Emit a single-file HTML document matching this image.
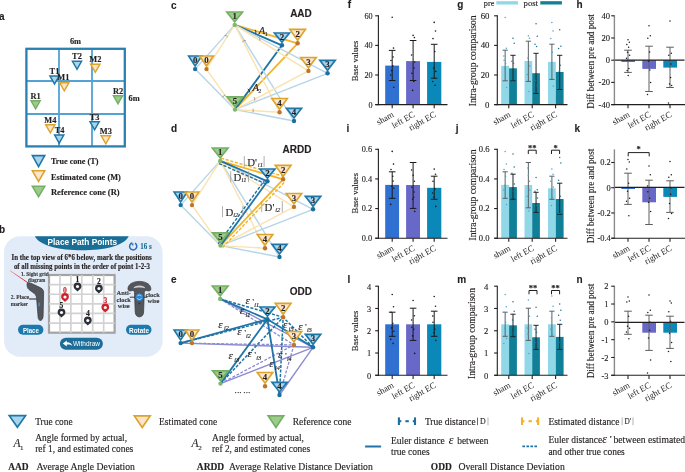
<!DOCTYPE html><html><head><meta charset="utf-8"><style>html,body{margin:0;padding:0;background:#fff;width:685px;height:472px;overflow:hidden}svg{display:block;will-change:transform}</style></head><body><svg width="685" height="472" viewBox="0 0 685 472"><text x="-1" y="19.7" text-anchor="start" fill="#231f20" style="font-family:'Liberation Sans',sans-serif;font-size:10px;font-weight:bold;"  stroke="#231f20" stroke-width="0.14">a</text>
<text x="75.5" y="43.8" text-anchor="middle" fill="#231f20" style="font-family:'Liberation Serif',serif;font-size:8.4px;font-weight:bold;"  stroke="#231f20" stroke-width="0.14">6m</text>
<text x="128.6" y="100.5" text-anchor="start" fill="#231f20" style="font-family:'Liberation Serif',serif;font-size:8.4px;font-weight:bold;"  stroke="#231f20" stroke-width="0.14">6m</text>
<g stroke="#52a2d4" stroke-width="1.8" fill="none"><line x1="59" y1="48.8" x2="59" y2="146.5"/><line x1="92" y1="48.8" x2="92" y2="146.5"/><line x1="26.4" y1="81" x2="125" y2="81"/><line x1="26.4" y1="114" x2="125" y2="114"/></g>
<rect x="26.4" y="48.8" width="98.4" height="97.6" fill="none" stroke="#2a80b0" stroke-width="2.3"/>
<polygon points="72.44,61.25 81.56,61.25 77.00,69.33" fill="#a9d5ec" stroke="#1f77a8" stroke-width="1.5" stroke-linejoin="miter"/>
<text x="77" y="59.0" text-anchor="middle" fill="#231f20" style="font-family:'Liberation Serif',serif;font-size:8.4px;font-weight:bold;"  stroke="#231f20" stroke-width="0.14">T2</text>
<polygon points="90.74,64.25 99.86,64.25 95.30,72.33" fill="#fde4cc" stroke="#dca42a" stroke-width="1.5" stroke-linejoin="miter"/>
<text x="95.3" y="62.0" text-anchor="middle" fill="#231f20" style="font-family:'Liberation Serif',serif;font-size:8.4px;font-weight:bold;"  stroke="#231f20" stroke-width="0.14">M2</text>
<polygon points="49.94,75.95 59.06,75.95 54.50,84.03" fill="#a9d5ec" stroke="#1f77a8" stroke-width="1.5" stroke-linejoin="miter"/>
<text x="54.5" y="73.7" text-anchor="middle" fill="#231f20" style="font-family:'Liberation Serif',serif;font-size:8.4px;font-weight:bold;"  stroke="#231f20" stroke-width="0.14">T1</text>
<polygon points="59.74,82.75 68.86,82.75 64.30,90.83" fill="#fde4cc" stroke="#dca42a" stroke-width="1.5" stroke-linejoin="miter"/>
<text x="63.4" y="80.2" text-anchor="middle" fill="#231f20" style="font-family:'Liberation Serif',serif;font-size:8.4px;font-weight:bold;"  stroke="#231f20" stroke-width="0.14">M1</text>
<polygon points="31.04,100.75 40.16,100.75 35.60,108.83" fill="#9ccb8c" stroke="#74b064" stroke-width="1.5" stroke-linejoin="miter"/>
<text x="35.6" y="98.5" text-anchor="middle" fill="#231f20" style="font-family:'Liberation Serif',serif;font-size:8.4px;font-weight:bold;"  stroke="#231f20" stroke-width="0.14">R1</text>
<polygon points="113.44,95.75 122.56,95.75 118.00,103.83" fill="#9ccb8c" stroke="#74b064" stroke-width="1.5" stroke-linejoin="miter"/>
<text x="118" y="93.5" text-anchor="middle" fill="#231f20" style="font-family:'Liberation Serif',serif;font-size:8.4px;font-weight:bold;"  stroke="#231f20" stroke-width="0.14">R2</text>
<polygon points="90.04,121.75 99.16,121.75 94.60,129.82" fill="#a9d5ec" stroke="#1f77a8" stroke-width="1.5" stroke-linejoin="miter"/>
<text x="94.6" y="119.5" text-anchor="middle" fill="#231f20" style="font-family:'Liberation Serif',serif;font-size:8.4px;font-weight:bold;"  stroke="#231f20" stroke-width="0.14">T3</text>
<polygon points="45.74,124.75 54.86,124.75 50.30,132.82" fill="#fde4cc" stroke="#dca42a" stroke-width="1.5" stroke-linejoin="miter"/>
<text x="50.3" y="122.5" text-anchor="middle" fill="#231f20" style="font-family:'Liberation Serif',serif;font-size:8.4px;font-weight:bold;"  stroke="#231f20" stroke-width="0.14">M4</text>
<polygon points="54.64,135.05 63.76,135.05 59.20,143.12" fill="#a9d5ec" stroke="#1f77a8" stroke-width="1.5" stroke-linejoin="miter"/>
<text x="59.6" y="133.4" text-anchor="middle" fill="#231f20" style="font-family:'Liberation Serif',serif;font-size:8.4px;font-weight:bold;"  stroke="#231f20" stroke-width="0.14">T4</text>
<polygon points="101.24,135.75 110.36,135.75 105.80,143.82" fill="#fde4cc" stroke="#dca42a" stroke-width="1.5" stroke-linejoin="miter"/>
<text x="105.8" y="133.5" text-anchor="middle" fill="#231f20" style="font-family:'Liberation Serif',serif;font-size:8.4px;font-weight:bold;"  stroke="#231f20" stroke-width="0.14">M3</text>
<polygon points="32.40,155.60 44.70,155.60 38.55,166.60" fill="#a9d5ec" stroke="#1f77a8" stroke-width="1.6" stroke-linejoin="miter"/>
<polygon points="32.40,170.80 44.70,170.80 38.55,181.40" fill="#fde4cc" stroke="#dca42a" stroke-width="1.6" stroke-linejoin="miter"/>
<polygon points="32.40,186.30 44.70,186.30 38.55,196.60" fill="#9ccb8c" stroke="#74b064" stroke-width="1.6" stroke-linejoin="miter"/>
<text x="51" y="164" text-anchor="start" fill="#231f20" style="font-family:'Liberation Serif',serif;font-size:8.3px;font-weight:bold;"  textLength="47.4" lengthAdjust="spacingAndGlyphs" stroke="#231f20" stroke-width="0.14">True cone (T)</text>
<text x="51" y="179.5" text-anchor="start" fill="#231f20" style="font-family:'Liberation Serif',serif;font-size:8.3px;font-weight:bold;"  textLength="69.8" lengthAdjust="spacingAndGlyphs" stroke="#231f20" stroke-width="0.14">Estimated cone (M)</text>
<text x="51" y="194.5" text-anchor="start" fill="#231f20" style="font-family:'Liberation Serif',serif;font-size:8.3px;font-weight:bold;"  textLength="68.6" lengthAdjust="spacingAndGlyphs" stroke="#231f20" stroke-width="0.14">Reference cone (R)</text>
<text x="-1" y="232.5" text-anchor="start" fill="#231f20" style="font-family:'Liberation Sans',sans-serif;font-size:10px;font-weight:bold;"  stroke="#231f20" stroke-width="0.14">b</text>
<rect x="4" y="236.2" width="158.6" height="120.5" rx="16" ry="16" fill="#e2ecf8"/>
<path d="M34.8,236.2 L128.7,236.2 C124,246 104,250.2 82,250.2 C60,250.2 40,246 34.8,236.2 Z" fill="#186e96"/>
<text x="47.5" y="245.4" text-anchor="start" fill="#ffffff" style="font-family:'Liberation Sans',sans-serif;font-size:9.6px;font-weight:bold;"  textLength="69.5" lengthAdjust="spacingAndGlyphs">Place Path Points</text>
<path d="M135.00,243.18 A3.6,3.6 0 1 1 132.27,242.82" fill="none" stroke="#2a6cc0" stroke-width="1.5"/>
<path d="M133.20,246.30 L131.20,244.10 L133.40,243.30 Z" fill="#2a6cc0"/>
<text x="140.3" y="249.2" text-anchor="start" fill="#1a6e98" style="font-family:'Liberation Serif',serif;font-size:7.6px;font-weight:bold;"  textLength="11.5" lengthAdjust="spacingAndGlyphs" stroke="#1a6e98" stroke-width="0.14">16 s</text>
<text x="11.5" y="260.3" text-anchor="start" fill="#231f20" style="font-family:'Liberation Serif',serif;font-size:7.6px;font-weight:bold;"  textLength="140.2" lengthAdjust="spacingAndGlyphs" stroke="#231f20" stroke-width="0.14">In the top view of 6*6 below, mark the positions</text>
<text x="13.9" y="268.6" text-anchor="start" fill="#231f20" style="font-family:'Liberation Serif',serif;font-size:7.6px;font-weight:bold;"  textLength="136" lengthAdjust="spacingAndGlyphs" stroke="#231f20" stroke-width="0.14">of all missing points in the order of point 1-2-3</text>
<rect x="49" y="275" width="65.6" height="57.69999999999999" fill="#ffffff" stroke="#a3a3a3" stroke-width="2.2"/>
<g stroke="#d2d2d2" stroke-width="1.7"><line x1="59.93" y1="275" x2="59.93" y2="332.7"/><line x1="49" y1="284.62" x2="114.6" y2="284.62"/><line x1="70.87" y1="275" x2="70.87" y2="332.7"/><line x1="49" y1="294.23" x2="114.6" y2="294.23"/><line x1="81.80" y1="275" x2="81.80" y2="332.7"/><line x1="49" y1="303.85" x2="114.6" y2="303.85"/><line x1="92.73" y1="275" x2="92.73" y2="332.7"/><line x1="49" y1="313.47" x2="114.6" y2="313.47"/><line x1="103.67" y1="275" x2="103.67" y2="332.7"/><line x1="49" y1="323.08" x2="114.6" y2="323.08"/></g>
<path d="M73.60,286.50 A3.9,3.9 0 1 1 81.40,286.50 C81.40,288.70 79.10,289.70 77.50,291.50 C75.90,289.70 73.60,288.70 73.60,286.50 Z" fill="#2c3038"/>
<circle cx="77.5" cy="286.50" r="1.55" fill="#ffffff"/>
<text x="77.5" y="282.2" text-anchor="middle" fill="#231f20" style="font-family:'Liberation Serif',serif;font-size:7.6px;font-weight:bold;"  stroke="#231f20" stroke-width="0.14">1</text>
<path d="M95.00,288.50 A3.9,3.9 0 1 1 102.80,288.50 C102.80,290.70 100.50,291.70 98.90,293.50 C97.30,291.70 95.00,290.70 95.00,288.50 Z" fill="#2c3038"/>
<circle cx="98.9" cy="288.50" r="1.55" fill="#ffffff"/>
<text x="98.9" y="284.2" text-anchor="middle" fill="#231f20" style="font-family:'Liberation Serif',serif;font-size:7.6px;font-weight:bold;"  stroke="#231f20" stroke-width="0.14">2</text>
<path d="M61.10,297.00 A3.9,3.9 0 1 1 68.90,297.00 C68.90,299.20 66.60,300.20 65.00,302.00 C63.40,300.20 61.10,299.20 61.10,297.00 Z" fill="#d0202a"/>
<circle cx="65" cy="297.00" r="1.55" fill="#ffffff"/>
<text x="65" y="292.7" text-anchor="middle" fill="#d0202a" style="font-family:'Liberation Serif',serif;font-size:7.6px;font-weight:bold;"  stroke="#d0202a" stroke-width="0.14">0</text>
<path d="M101.40,307.50 A3.9,3.9 0 1 1 109.20,307.50 C109.20,309.70 106.90,310.70 105.30,312.50 C103.70,310.70 101.40,309.70 101.40,307.50 Z" fill="#d0202a"/>
<circle cx="105.3" cy="307.50" r="1.55" fill="#ffffff"/>
<text x="105.3" y="303.2" text-anchor="middle" fill="#d0202a" style="font-family:'Liberation Serif',serif;font-size:7.6px;font-weight:bold;"  stroke="#d0202a" stroke-width="0.14">3</text>
<path d="M57.60,312.50 A3.9,3.9 0 1 1 65.40,312.50 C65.40,314.70 63.10,315.70 61.50,317.50 C59.90,315.70 57.60,314.70 57.60,312.50 Z" fill="#2c3038"/>
<circle cx="61.5" cy="312.50" r="1.55" fill="#ffffff"/>
<text x="61.5" y="308.2" text-anchor="middle" fill="#231f20" style="font-family:'Liberation Serif',serif;font-size:7.6px;font-weight:bold;"  stroke="#231f20" stroke-width="0.14">5</text>
<path d="M83.90,320.50 A3.9,3.9 0 1 1 91.70,320.50 C91.70,322.70 89.40,323.70 87.80,325.50 C86.20,323.70 83.90,322.70 83.90,320.50 Z" fill="#2c3038"/>
<circle cx="87.8" cy="320.50" r="1.55" fill="#ffffff"/>
<text x="87.8" y="316.2" text-anchor="middle" fill="#231f20" style="font-family:'Liberation Serif',serif;font-size:7.6px;font-weight:bold;"  stroke="#231f20" stroke-width="0.14">4</text>
<defs><linearGradient id="rl" x1="0" y1="0" x2="1" y2="0"><stop offset="0" stop-color="#f4a0a0"/><stop offset="1" stop-color="#d8202a"/></linearGradient></defs>
<path d="M10,270.7 L28,282.8" stroke="url(#rl)" stroke-width="1"/>
<path d="M27,284.6 C26.6,282.6 28.6,282.2 31,283.2 L40.6,287.8 C43.1,289 43.9,291.2 43.6,294 L43.1,316 C42.9,321.6 38.4,322 38.1,317 L36.6,298.5 C36.4,295.5 35.2,293.8 32.6,292.2 L29,289.6 C27.6,288.6 27.1,286.6 27,284.6 Z" fill="#53575c" stroke="#35383c" stroke-width="0.7"/>
<rect x="38.3" y="302.5" width="1.6" height="3.8" fill="#3a8ad0"/>
<line x1="29.1" y1="299" x2="36.6" y2="299" stroke="#222" stroke-width="1"/>
<text x="20.9" y="275.5" text-anchor="start" fill="#3a3a3a" style="font-family:'Liberation Serif',serif;font-size:6.4px;font-weight:bold;"  textLength="27.9" lengthAdjust="spacingAndGlyphs" stroke="#3a3a3a" stroke-width="0.14">1. Sight grid</text>
<text x="27.9" y="282.2" text-anchor="start" fill="#3a3a3a" style="font-family:'Liberation Serif',serif;font-size:6.4px;font-weight:bold;"  textLength="17.5" lengthAdjust="spacingAndGlyphs" stroke="#3a3a3a" stroke-width="0.14">diagram</text>
<text x="10.7" y="299" text-anchor="start" fill="#3a3a3a" style="font-family:'Liberation Serif',serif;font-size:6.4px;font-weight:bold;"  textLength="18.2" lengthAdjust="spacingAndGlyphs" stroke="#3a3a3a" stroke-width="0.14">2. Place</text>
<text x="10.7" y="305.8" text-anchor="start" fill="#3a3a3a" style="font-family:'Liberation Serif',serif;font-size:6.4px;font-weight:bold;"  textLength="17.2" lengthAdjust="spacingAndGlyphs" stroke="#3a3a3a" stroke-width="0.14">marker</text>
<path d="M128,289.5 C127.5,285 132,281.4 139.4,281.4 C146.8,281.4 151.3,285 150.8,289.5 C150.5,291 148.5,291.3 146.5,290.5 C145.5,290.2 144.5,291 144.3,292.5 L143.6,312 C143.4,318.5 135.4,318.5 135.2,312 L134.5,292.5 C134.3,291 133.3,290.2 132.3,290.5 C130.3,291.3 128.3,291 128,289.5 Z" fill="#53575c" stroke="#35383c" stroke-width="0.7"/>
<path d="M133.6,288.2 C134.2,284.6 144.6,284.6 145.2,288.2 C142.8,287.2 136,287.2 133.6,288.2 Z" fill="#cfcfcf"/>
<line x1="129.8" y1="297.2" x2="135" y2="297.2" stroke="#222" stroke-width="0.9"/>
<line x1="143.8" y1="297.2" x2="147.3" y2="297.2" stroke="#222" stroke-width="0.9"/>
<circle cx="139.4" cy="297.2" r="3.7" fill="#2f86d0"/>
<path d="M137.4,296.2 A2.2,2.2 0 0 1 141.4,296.2 M141.4,298.2 A2.2,2.2 0 0 1 137.4,298.2" stroke="#d8ecfa" stroke-width="0.8" fill="none"/>
<rect x="138.6" y="302.8" width="1.6" height="1.4" fill="#2a2d30"/>
<text x="123.7" y="295.2" text-anchor="middle" fill="#3a3a3a" style="font-family:'Liberation Serif',serif;font-size:6.4px;font-weight:bold;"  stroke="#3a3a3a" stroke-width="0.14">Anti-</text>
<text x="123.7" y="301.8" text-anchor="middle" fill="#3a3a3a" style="font-family:'Liberation Serif',serif;font-size:6.4px;font-weight:bold;"  stroke="#3a3a3a" stroke-width="0.14">clock</text>
<text x="123.7" y="308.4" text-anchor="middle" fill="#3a3a3a" style="font-family:'Liberation Serif',serif;font-size:6.4px;font-weight:bold;"  stroke="#3a3a3a" stroke-width="0.14">wise</text>
<text x="152.6" y="296.8" text-anchor="middle" fill="#3a3a3a" style="font-family:'Liberation Serif',serif;font-size:6.4px;font-weight:bold;"  stroke="#3a3a3a" stroke-width="0.14">clock</text>
<text x="153.4" y="303.2" text-anchor="middle" fill="#3a3a3a" style="font-family:'Liberation Serif',serif;font-size:6.4px;font-weight:bold;"  stroke="#3a3a3a" stroke-width="0.14">wise</text>
<rect x="18" y="324.7" width="25.4" height="10.1" rx="5" fill="#1a7ab0"/>
<text x="22.9" y="332.6" text-anchor="start" fill="#fff" style="font-family:'Liberation Sans',sans-serif;font-size:8px;font-weight:bold;"  textLength="16" lengthAdjust="spacingAndGlyphs">Place</text>
<rect x="126" y="324.7" width="25.5" height="10.1" rx="5" fill="#1a7ab0"/>
<text x="129" y="332.6" text-anchor="start" fill="#fff" style="font-family:'Liberation Sans',sans-serif;font-size:8px;font-weight:bold;"  textLength="20" lengthAdjust="spacingAndGlyphs">Rotate</text>
<rect x="59.9" y="337.8" width="43" height="11.9" rx="6" fill="#1c6e98"/>
<path d="M62.8,343.6 L66.9,340.5 L66.7,342.2 C69.6,342.1 71.9,343.4 72.4,346.2 C70.9,344.7 68.9,344.4 66.7,344.7 L66.9,346.6 Z" fill="#fff"/>
<text x="73" y="346.4" text-anchor="start" fill="#fff" style="font-family:'Liberation Sans',sans-serif;font-size:7.8px;font-weight:normal;"  textLength="27" lengthAdjust="spacingAndGlyphs">Withdraw</text>
<text x="171" y="9.3" text-anchor="start" fill="#231f20" style="font-family:'Liberation Sans',sans-serif;font-size:10px;font-weight:bold;"  stroke="#231f20" stroke-width="0.14">c</text>
<text x="311.8" y="17.1" text-anchor="end" fill="#231f20" style="font-family:'Liberation Sans',sans-serif;font-size:10px;font-weight:bold;"  stroke="#231f20" stroke-width="0.14">AAD</text>
<line x1="234.70" y1="24.90" x2="297.65" y2="43.30" stroke="#f2b42a" stroke-width="1.85" opacity="1"/>
<line x1="234.70" y1="24.90" x2="281.95" y2="45.30" stroke="#1e74a6" stroke-width="1.85" opacity="1"/>
<line x1="235.00" y1="109.60" x2="297.65" y2="43.30" stroke="#f2b42a" stroke-width="1.85" opacity="1"/>
<line x1="235.00" y1="109.60" x2="281.95" y2="45.30" stroke="#1e74a6" stroke-width="1.85" opacity="1"/>
<line x1="234.70" y1="24.90" x2="195.15" y2="69.10" stroke="#b6d5e7" stroke-width="1.4" opacity="1"/>
<line x1="234.70" y1="24.90" x2="327.55" y2="73.30" stroke="#b6d5e7" stroke-width="1.4" opacity="1"/>
<line x1="234.70" y1="24.90" x2="294.00" y2="121.00" stroke="#b6d5e7" stroke-width="1.4" opacity="1"/>
<line x1="234.70" y1="24.90" x2="206.50" y2="69.10" stroke="#fbe2ae" stroke-width="1.4" opacity="1"/>
<line x1="234.70" y1="24.90" x2="308.45" y2="70.90" stroke="#fbe2ae" stroke-width="1.4" opacity="1"/>
<line x1="234.70" y1="24.90" x2="279.55" y2="112.20" stroke="#fbe2ae" stroke-width="1.4" opacity="1"/>
<line x1="235.00" y1="109.60" x2="195.15" y2="69.10" stroke="#b6d5e7" stroke-width="1.4" opacity="1"/>
<line x1="235.00" y1="109.60" x2="327.55" y2="73.30" stroke="#b6d5e7" stroke-width="1.4" opacity="1"/>
<line x1="235.00" y1="109.60" x2="294.00" y2="121.00" stroke="#b6d5e7" stroke-width="1.4" opacity="1"/>
<line x1="235.00" y1="109.60" x2="206.50" y2="69.10" stroke="#fbe2ae" stroke-width="1.4" opacity="1"/>
<line x1="235.00" y1="109.60" x2="308.45" y2="70.90" stroke="#fbe2ae" stroke-width="1.4" opacity="1"/>
<line x1="235.00" y1="109.60" x2="279.55" y2="112.20" stroke="#fbe2ae" stroke-width="1.4" opacity="1"/>
<polygon points="188.63,56.03 201.67,56.03 195.15,66.09" fill="#a9d5ec" stroke="#1f77a8" stroke-width="1.65" stroke-linejoin="miter"/>
<circle cx="195.15" cy="69.10" r="2.2" fill="#1a6f9e"/>
<text x="195.14999999999998" y="63.1" text-anchor="middle" fill="#231f20" style="font-family:'Liberation Serif',serif;font-size:8.8px;font-weight:bold;"  stroke="#231f20" stroke-width="0.14">0</text>
<polygon points="199.63,56.03 213.37,56.03 206.50,66.09" fill="#fde4cc" stroke="#dca42a" stroke-width="1.65" stroke-linejoin="miter"/>
<circle cx="206.50" cy="69.10" r="2.2" fill="#c0742a"/>
<text x="206.5" y="63.1" text-anchor="middle" fill="#231f20" style="font-family:'Liberation Serif',serif;font-size:8.8px;font-weight:bold;"  stroke="#231f20" stroke-width="0.14">0</text>
<polygon points="226.83,12.02 242.57,12.02 234.70,21.89" fill="#9ccb8c" stroke="#74b064" stroke-width="1.65" stroke-linejoin="miter"/>
<circle cx="234.70" cy="24.90" r="2.2" fill="#7db86c"/>
<text x="234.7" y="19.1" text-anchor="middle" fill="#231f20" style="font-family:'Liberation Serif',serif;font-size:8.8px;font-weight:bold;"  stroke="#231f20" stroke-width="0.14">1</text>
<polygon points="227.03,96.83 242.97,96.83 235.00,106.59" fill="#9ccb8c" stroke="#74b064" stroke-width="1.65" stroke-linejoin="miter"/>
<circle cx="235.00" cy="109.60" r="2.2" fill="#7db86c"/>
<text x="235.0" y="103.9" text-anchor="middle" fill="#231f20" style="font-family:'Liberation Serif',serif;font-size:8.8px;font-weight:bold;"  stroke="#231f20" stroke-width="0.14">5</text>
<polygon points="274.43,33.03 289.47,33.03 281.95,42.29" fill="#a9d5ec" stroke="#1f77a8" stroke-width="1.65" stroke-linejoin="miter"/>
<circle cx="281.95" cy="45.30" r="2.2" fill="#1a6f9e"/>
<text x="281.95" y="40.1" text-anchor="middle" fill="#231f20" style="font-family:'Liberation Serif',serif;font-size:8.8px;font-weight:bold;"  stroke="#231f20" stroke-width="0.14">2</text>
<polygon points="289.83,29.43 305.47,29.43 297.65,40.29" fill="#fde4cc" stroke="#dca42a" stroke-width="1.65" stroke-linejoin="miter"/>
<circle cx="297.65" cy="43.30" r="2.2" fill="#c0742a"/>
<text x="297.65" y="36.5" text-anchor="middle" fill="#231f20" style="font-family:'Liberation Serif',serif;font-size:8.8px;font-weight:bold;"  stroke="#231f20" stroke-width="0.14">2</text>
<polygon points="300.73,57.53 316.17,57.53 308.45,67.89" fill="#fde4cc" stroke="#dca42a" stroke-width="1.65" stroke-linejoin="miter"/>
<circle cx="308.45" cy="70.90" r="2.2" fill="#c0742a"/>
<text x="308.45" y="64.60000000000001" text-anchor="middle" fill="#231f20" style="font-family:'Liberation Serif',serif;font-size:8.8px;font-weight:bold;"  stroke="#231f20" stroke-width="0.14">3</text>
<polygon points="319.83,60.33 335.27,60.33 327.55,70.29" fill="#a9d5ec" stroke="#1f77a8" stroke-width="1.65" stroke-linejoin="miter"/>
<circle cx="327.55" cy="73.30" r="2.2" fill="#1a6f9e"/>
<text x="327.55" y="67.4" text-anchor="middle" fill="#231f20" style="font-family:'Liberation Serif',serif;font-size:8.8px;font-weight:bold;"  stroke="#231f20" stroke-width="0.14">3</text>
<polygon points="271.83,98.53 287.27,98.53 279.55,109.19" fill="#fde4cc" stroke="#dca42a" stroke-width="1.65" stroke-linejoin="miter"/>
<circle cx="279.55" cy="112.20" r="2.2" fill="#c0742a"/>
<text x="279.55" y="105.60000000000001" text-anchor="middle" fill="#231f20" style="font-family:'Liberation Serif',serif;font-size:8.8px;font-weight:bold;"  stroke="#231f20" stroke-width="0.14">4</text>
<polygon points="286.43,108.33 301.57,108.33 294.00,117.99" fill="#a9d5ec" stroke="#1f77a8" stroke-width="1.65" stroke-linejoin="miter"/>
<circle cx="294.00" cy="121.00" r="2.2" fill="#1a6f9e"/>
<text x="294.0" y="115.4" text-anchor="middle" fill="#231f20" style="font-family:'Liberation Serif',serif;font-size:8.8px;font-weight:bold;"  stroke="#231f20" stroke-width="0.14">4</text>
<text x="262.0" y="33.7" text-anchor="middle" fill="#231f20" style="font-family:'Liberation Serif',serif;font-size:10.5px;font-weight:normal;font-style:italic"  stroke="#231f20" stroke-width="0.14">A</text>
<text x="266.2" y="35.6" text-anchor="middle" fill="#231f20" style="font-family:'Liberation Serif',serif;font-size:6px;font-weight:normal;"  stroke="#231f20" stroke-width="0.14">1</text>
<text x="255.6" y="90.6" text-anchor="middle" fill="#231f20" style="font-family:'Liberation Serif',serif;font-size:10.5px;font-weight:normal;font-style:italic"  stroke="#231f20" stroke-width="0.14">A</text>
<text x="259.8" y="92.5" text-anchor="middle" fill="#231f20" style="font-family:'Liberation Serif',serif;font-size:6px;font-weight:normal;"  stroke="#231f20" stroke-width="0.14">2</text>
<path d="M224.64,35.20 Q226.65,35.32 227.76,37.00" fill="none" stroke="#7a7a7a" stroke-width="0.7"/>
<path d="M242.41,41.82 Q243.79,40.35 245.79,40.58" fill="none" stroke="#7a7a7a" stroke-width="0.7"/>
<path d="M258.78,37.31 Q260.25,38.69 260.02,40.69" fill="none" stroke="#7a7a7a" stroke-width="0.7"/>
<path d="M255.05,29.73 Q256.29,31.54 255.75,33.67" fill="none" stroke="#231f20" stroke-width="0.9"/>
<path d="M222.62,97.26 Q223.42,95.41 225.38,94.94" fill="none" stroke="#7a7a7a" stroke-width="0.7"/>
<path d="M253.99,97.03 Q255.19,98.64 254.61,100.57" fill="none" stroke="#7a7a7a" stroke-width="0.7"/>
<path d="M252.90,108.70 Q253.80,110.50 252.90,112.30" fill="none" stroke="#7a7a7a" stroke-width="0.7"/>
<path d="M247.80,88.87 Q249.58,90.15 249.80,92.33" fill="none" stroke="#231f20" stroke-width="0.9"/>
<text x="171" y="132" text-anchor="start" fill="#231f20" style="font-family:'Liberation Sans',sans-serif;font-size:10px;font-weight:bold;"  stroke="#231f20" stroke-width="0.14">d</text>
<text x="311.4" y="152.8" text-anchor="end" fill="#231f20" style="font-family:'Liberation Sans',sans-serif;font-size:10px;font-weight:bold;"  stroke="#231f20" stroke-width="0.14">ARDD</text>
<line x1="220.20" y1="160.90" x2="180.65" y2="205.10" stroke="#b6d5e7" stroke-width="1.4" opacity="1"/>
<line x1="220.20" y1="160.90" x2="313.05" y2="209.30" stroke="#b6d5e7" stroke-width="1.4" opacity="1"/>
<line x1="220.20" y1="160.90" x2="279.50" y2="257.00" stroke="#b6d5e7" stroke-width="1.4" opacity="1"/>
<line x1="220.20" y1="160.90" x2="192.00" y2="205.10" stroke="#fbe2ae" stroke-width="1.4" opacity="1"/>
<line x1="220.20" y1="160.90" x2="293.95" y2="206.90" stroke="#fbe2ae" stroke-width="1.4" opacity="1"/>
<line x1="220.20" y1="160.90" x2="265.05" y2="248.20" stroke="#fbe2ae" stroke-width="1.4" opacity="1"/>
<line x1="220.50" y1="245.60" x2="180.65" y2="205.10" stroke="#b6d5e7" stroke-width="1.4" opacity="1"/>
<line x1="220.50" y1="245.60" x2="313.05" y2="209.30" stroke="#b6d5e7" stroke-width="1.4" opacity="1"/>
<line x1="220.50" y1="245.60" x2="279.50" y2="257.00" stroke="#b6d5e7" stroke-width="1.4" opacity="1"/>
<line x1="220.50" y1="245.60" x2="192.00" y2="205.10" stroke="#fbe2ae" stroke-width="1.4" opacity="1"/>
<line x1="220.50" y1="245.60" x2="293.95" y2="206.90" stroke="#fbe2ae" stroke-width="1.4" opacity="1"/>
<line x1="220.50" y1="245.60" x2="265.05" y2="248.20" stroke="#fbe2ae" stroke-width="1.4" opacity="1"/>
<line x1="220.20" y1="160.90" x2="283.15" y2="179.30" stroke="#f2b42a" stroke-width="1.8" opacity="1"/>
<line x1="221.01" y1="158.12" x2="283.96" y2="176.52" stroke="#f2b42a" stroke-width="1.4" stroke-dasharray="3.2,1.6" opacity="1"/>
<line x1="220.20" y1="160.90" x2="267.45" y2="181.30" stroke="#1e74a6" stroke-width="1.8" opacity="1"/>
<line x1="219.05" y1="163.56" x2="266.30" y2="183.96" stroke="#1e74a6" stroke-width="1.4" stroke-dasharray="3.2,1.6" opacity="1"/>
<line x1="220.50" y1="245.60" x2="283.15" y2="179.30" stroke="#f2b42a" stroke-width="1.8" opacity="1"/>
<line x1="222.61" y1="247.59" x2="285.26" y2="181.29" stroke="#f2b42a" stroke-width="1.4" stroke-dasharray="3.2,1.6" opacity="1"/>
<line x1="220.50" y1="245.60" x2="267.45" y2="181.30" stroke="#1e74a6" stroke-width="1.8" opacity="1"/>
<line x1="218.16" y1="243.89" x2="265.11" y2="179.59" stroke="#1e74a6" stroke-width="1.4" stroke-dasharray="3.2,1.6" opacity="1"/>
<polygon points="174.13,192.02 187.17,192.02 180.65,202.09" fill="#a9d5ec" stroke="#1f77a8" stroke-width="1.65" stroke-linejoin="miter"/>
<circle cx="180.65" cy="205.10" r="2.2" fill="#1a6f9e"/>
<text x="180.64999999999998" y="199.1" text-anchor="middle" fill="#231f20" style="font-family:'Liberation Serif',serif;font-size:8.8px;font-weight:bold;"  stroke="#231f20" stroke-width="0.14">0</text>
<polygon points="185.13,192.02 198.87,192.02 192.00,202.09" fill="#fde4cc" stroke="#dca42a" stroke-width="1.65" stroke-linejoin="miter"/>
<circle cx="192.00" cy="205.10" r="2.2" fill="#c0742a"/>
<text x="192.0" y="199.1" text-anchor="middle" fill="#231f20" style="font-family:'Liberation Serif',serif;font-size:8.8px;font-weight:bold;"  stroke="#231f20" stroke-width="0.14">0</text>
<polygon points="212.33,148.02 228.07,148.02 220.20,157.89" fill="#9ccb8c" stroke="#74b064" stroke-width="1.65" stroke-linejoin="miter"/>
<circle cx="220.20" cy="160.90" r="2.2" fill="#7db86c"/>
<text x="220.2" y="155.1" text-anchor="middle" fill="#231f20" style="font-family:'Liberation Serif',serif;font-size:8.8px;font-weight:bold;"  stroke="#231f20" stroke-width="0.14">1</text>
<polygon points="212.53,232.82 228.47,232.82 220.50,242.59" fill="#9ccb8c" stroke="#74b064" stroke-width="1.65" stroke-linejoin="miter"/>
<circle cx="220.50" cy="245.60" r="2.2" fill="#7db86c"/>
<text x="220.5" y="239.9" text-anchor="middle" fill="#231f20" style="font-family:'Liberation Serif',serif;font-size:8.8px;font-weight:bold;"  stroke="#231f20" stroke-width="0.14">5</text>
<polygon points="259.93,169.02 274.97,169.02 267.45,178.29" fill="#a9d5ec" stroke="#1f77a8" stroke-width="1.65" stroke-linejoin="miter"/>
<circle cx="267.45" cy="181.30" r="2.2" fill="#1a6f9e"/>
<text x="267.45" y="176.1" text-anchor="middle" fill="#231f20" style="font-family:'Liberation Serif',serif;font-size:8.8px;font-weight:bold;"  stroke="#231f20" stroke-width="0.14">2</text>
<polygon points="275.33,165.42 290.97,165.42 283.15,176.29" fill="#fde4cc" stroke="#dca42a" stroke-width="1.65" stroke-linejoin="miter"/>
<circle cx="283.15" cy="179.30" r="2.2" fill="#c0742a"/>
<text x="283.15" y="172.5" text-anchor="middle" fill="#231f20" style="font-family:'Liberation Serif',serif;font-size:8.8px;font-weight:bold;"  stroke="#231f20" stroke-width="0.14">2</text>
<polygon points="286.23,193.52 301.67,193.52 293.95,203.89" fill="#fde4cc" stroke="#dca42a" stroke-width="1.65" stroke-linejoin="miter"/>
<circle cx="293.95" cy="206.90" r="2.2" fill="#c0742a"/>
<text x="293.95" y="200.6" text-anchor="middle" fill="#231f20" style="font-family:'Liberation Serif',serif;font-size:8.8px;font-weight:bold;"  stroke="#231f20" stroke-width="0.14">3</text>
<polygon points="305.33,196.32 320.77,196.32 313.05,206.29" fill="#a9d5ec" stroke="#1f77a8" stroke-width="1.65" stroke-linejoin="miter"/>
<circle cx="313.05" cy="209.30" r="2.2" fill="#1a6f9e"/>
<text x="313.05" y="203.4" text-anchor="middle" fill="#231f20" style="font-family:'Liberation Serif',serif;font-size:8.8px;font-weight:bold;"  stroke="#231f20" stroke-width="0.14">3</text>
<polygon points="257.33,234.52 272.77,234.52 265.05,245.19" fill="#fde4cc" stroke="#dca42a" stroke-width="1.65" stroke-linejoin="miter"/>
<circle cx="265.05" cy="248.20" r="2.2" fill="#c0742a"/>
<text x="265.05" y="241.6" text-anchor="middle" fill="#231f20" style="font-family:'Liberation Serif',serif;font-size:8.8px;font-weight:bold;"  stroke="#231f20" stroke-width="0.14">4</text>
<polygon points="271.93,244.32 287.07,244.32 279.50,253.99" fill="#a9d5ec" stroke="#1f77a8" stroke-width="1.65" stroke-linejoin="miter"/>
<circle cx="279.50" cy="257.00" r="2.2" fill="#1a6f9e"/>
<text x="279.5" y="251.4" text-anchor="middle" fill="#231f20" style="font-family:'Liberation Serif',serif;font-size:8.8px;font-weight:bold;"  stroke="#231f20" stroke-width="0.14">4</text>
<line x1="244.29999999999998" y1="156.0" x2="244.29999999999998" y2="167.0" stroke="#9a9a9a" stroke-width="0.8"/>
<text x="247.2" y="165.6" text-anchor="start" fill="#2a2a2a" style="font-family:'Liberation Serif',serif;font-size:10.8px;font-weight:normal;"  stroke="#2a2a2a" stroke-width="0.14">D'</text>
<text x="257.80" y="167.20" fill="#2a2a2a" stroke="#2a2a2a" stroke-width="0.12" style="font-family:'Liberation Serif',serif;font-size:6.6px;font-style:italic">i1</text>
<line x1="264.1" y1="156.0" x2="264.1" y2="167.0" stroke="#9a9a9a" stroke-width="0.8"/>
<line x1="230.7" y1="171.20000000000002" x2="230.7" y2="182.20000000000002" stroke="#9a9a9a" stroke-width="0.8"/>
<text x="233.6" y="180.8" text-anchor="start" fill="#2a2a2a" style="font-family:'Liberation Serif',serif;font-size:10.8px;font-weight:normal;"  stroke="#2a2a2a" stroke-width="0.14">D</text>
<text x="241.40" y="182.40" fill="#2a2a2a" stroke="#2a2a2a" stroke-width="0.12" style="font-family:'Liberation Serif',serif;font-size:6.6px;font-style:italic">i1</text>
<line x1="248.5" y1="171.20000000000002" x2="248.5" y2="182.20000000000002" stroke="#9a9a9a" stroke-width="0.8"/>
<line x1="222.5" y1="206.20000000000002" x2="222.5" y2="217.20000000000002" stroke="#9a9a9a" stroke-width="0.8"/>
<text x="225.4" y="215.8" text-anchor="start" fill="#2a2a2a" style="font-family:'Liberation Serif',serif;font-size:10.8px;font-weight:normal;"  stroke="#2a2a2a" stroke-width="0.14">D</text>
<text x="233.20" y="217.40" fill="#2a2a2a" stroke="#2a2a2a" stroke-width="0.12" style="font-family:'Liberation Serif',serif;font-size:6.6px;font-style:italic">i2</text>
<line x1="242.8" y1="206.20000000000002" x2="242.8" y2="217.20000000000002" stroke="#9a9a9a" stroke-width="0.8"/>
<line x1="261.7" y1="201.20000000000002" x2="261.7" y2="212.20000000000002" stroke="#9a9a9a" stroke-width="0.8"/>
<text x="264.6" y="210.8" text-anchor="start" fill="#2a2a2a" style="font-family:'Liberation Serif',serif;font-size:10.8px;font-weight:normal;"  stroke="#2a2a2a" stroke-width="0.14">D'</text>
<text x="275.20" y="212.40" fill="#2a2a2a" stroke="#2a2a2a" stroke-width="0.12" style="font-family:'Liberation Serif',serif;font-size:6.6px;font-style:italic">i2</text>
<line x1="282.3" y1="201.20000000000002" x2="282.3" y2="212.20000000000002" stroke="#9a9a9a" stroke-width="0.8"/>
<text x="171" y="283.3" text-anchor="start" fill="#231f20" style="font-family:'Liberation Sans',sans-serif;font-size:10px;font-weight:bold;"  stroke="#231f20" stroke-width="0.14">e</text>
<text x="311.9" y="294.6" text-anchor="end" fill="#231f20" style="font-family:'Liberation Sans',sans-serif;font-size:10px;font-weight:bold;"  stroke="#231f20" stroke-width="0.14">ODD</text>
<line x1="220.20" y1="298.90" x2="313.05" y2="347.30" stroke="#8c8cd2" stroke-width="1.4" opacity="1"/>
<line x1="220.20" y1="298.90" x2="293.95" y2="344.90" stroke="#8c8cd2" stroke-width="1.3" stroke-dasharray="3,1.5" opacity="1"/>
<line x1="180.65" y1="343.10" x2="313.05" y2="347.30" stroke="#8c8cd2" stroke-width="1.4" opacity="1"/>
<line x1="180.65" y1="343.10" x2="293.95" y2="344.90" stroke="#8c8cd2" stroke-width="1.3" stroke-dasharray="3,1.5" opacity="1"/>
<line x1="220.50" y1="383.60" x2="313.05" y2="347.30" stroke="#8c8cd2" stroke-width="1.4" opacity="1"/>
<line x1="220.50" y1="383.60" x2="293.95" y2="344.90" stroke="#8c8cd2" stroke-width="1.3" stroke-dasharray="3,1.5" opacity="1"/>
<line x1="279.50" y1="395.00" x2="313.05" y2="347.30" stroke="#8c8cd2" stroke-width="1.4" opacity="1"/>
<line x1="279.50" y1="395.00" x2="293.95" y2="344.90" stroke="#8c8cd2" stroke-width="1.3" stroke-dasharray="3,1.5" opacity="1"/>
<line x1="220.20" y1="298.90" x2="267.45" y2="319.30" stroke="#1e74a6" stroke-width="1.8" opacity="1"/>
<line x1="220.20" y1="298.90" x2="283.15" y2="317.30" stroke="#1e74a6" stroke-width="1.5" stroke-dasharray="3,1.5" opacity="1"/>
<line x1="180.65" y1="343.10" x2="267.45" y2="319.30" stroke="#1e74a6" stroke-width="1.8" opacity="1"/>
<line x1="180.65" y1="343.10" x2="283.15" y2="317.30" stroke="#1e74a6" stroke-width="1.5" stroke-dasharray="3,1.5" opacity="1"/>
<line x1="220.50" y1="383.60" x2="267.45" y2="319.30" stroke="#1e74a6" stroke-width="1.8" opacity="1"/>
<line x1="220.50" y1="383.60" x2="283.15" y2="317.30" stroke="#1e74a6" stroke-width="1.5" stroke-dasharray="3,1.5" opacity="1"/>
<line x1="279.50" y1="395.00" x2="267.45" y2="319.30" stroke="#1e74a6" stroke-width="1.8" opacity="1"/>
<line x1="279.50" y1="395.00" x2="283.15" y2="317.30" stroke="#1e74a6" stroke-width="1.5" stroke-dasharray="3,1.5" opacity="1"/>
<line x1="313.05" y1="347.30" x2="267.45" y2="319.30" stroke="#1e74a6" stroke-width="1.8" opacity="1"/>
<line x1="313.05" y1="347.30" x2="283.15" y2="317.30" stroke="#1e74a6" stroke-width="1.5" stroke-dasharray="3,1.5" opacity="1"/>
<polygon points="174.13,330.02 187.17,330.02 180.65,340.09" fill="#a9d5ec" stroke="#1f77a8" stroke-width="1.65" stroke-linejoin="miter"/>
<circle cx="180.65" cy="343.10" r="2.2" fill="#1a6f9e"/>
<text x="180.64999999999998" y="337.09999999999997" text-anchor="middle" fill="#231f20" style="font-family:'Liberation Serif',serif;font-size:8.8px;font-weight:bold;"  stroke="#231f20" stroke-width="0.14">0</text>
<polygon points="185.13,330.02 198.87,330.02 192.00,340.09" fill="#fde4cc" stroke="#dca42a" stroke-width="1.65" stroke-linejoin="miter"/>
<circle cx="192.00" cy="343.10" r="2.2" fill="#c0742a"/>
<text x="192.0" y="337.09999999999997" text-anchor="middle" fill="#231f20" style="font-family:'Liberation Serif',serif;font-size:8.8px;font-weight:bold;"  stroke="#231f20" stroke-width="0.14">0</text>
<polygon points="212.33,286.02 228.07,286.02 220.20,295.89" fill="#9ccb8c" stroke="#74b064" stroke-width="1.65" stroke-linejoin="miter"/>
<circle cx="220.20" cy="298.90" r="2.2" fill="#7db86c"/>
<text x="220.2" y="293.09999999999997" text-anchor="middle" fill="#231f20" style="font-family:'Liberation Serif',serif;font-size:8.8px;font-weight:bold;"  stroke="#231f20" stroke-width="0.14">1</text>
<polygon points="212.53,370.82 228.47,370.82 220.50,380.59" fill="#9ccb8c" stroke="#74b064" stroke-width="1.65" stroke-linejoin="miter"/>
<circle cx="220.50" cy="383.60" r="2.2" fill="#7db86c"/>
<text x="220.5" y="377.9" text-anchor="middle" fill="#231f20" style="font-family:'Liberation Serif',serif;font-size:8.8px;font-weight:bold;"  stroke="#231f20" stroke-width="0.14">5</text>
<polygon points="259.93,307.02 274.97,307.02 267.45,316.29" fill="#a9d5ec" stroke="#1f77a8" stroke-width="1.65" stroke-linejoin="miter"/>
<circle cx="267.45" cy="319.30" r="2.2" fill="#1a6f9e"/>
<text x="267.45" y="314.09999999999997" text-anchor="middle" fill="#231f20" style="font-family:'Liberation Serif',serif;font-size:8.8px;font-weight:bold;"  stroke="#231f20" stroke-width="0.14">2</text>
<polygon points="275.33,303.43 290.97,303.43 283.15,314.29" fill="#fde4cc" stroke="#dca42a" stroke-width="1.65" stroke-linejoin="miter"/>
<circle cx="283.15" cy="317.30" r="2.2" fill="#c0742a"/>
<text x="283.15" y="310.5" text-anchor="middle" fill="#231f20" style="font-family:'Liberation Serif',serif;font-size:8.8px;font-weight:bold;"  stroke="#231f20" stroke-width="0.14">2</text>
<polygon points="286.23,331.52 301.67,331.52 293.95,341.89" fill="#fde4cc" stroke="#dca42a" stroke-width="1.65" stroke-linejoin="miter"/>
<circle cx="293.95" cy="344.90" r="2.2" fill="#c0742a"/>
<text x="293.95" y="338.59999999999997" text-anchor="middle" fill="#231f20" style="font-family:'Liberation Serif',serif;font-size:8.8px;font-weight:bold;"  stroke="#231f20" stroke-width="0.14">3</text>
<polygon points="305.33,334.32 320.77,334.32 313.05,344.29" fill="#a9d5ec" stroke="#1f77a8" stroke-width="1.65" stroke-linejoin="miter"/>
<circle cx="313.05" cy="347.30" r="2.2" fill="#1a6f9e"/>
<text x="313.05" y="341.4" text-anchor="middle" fill="#231f20" style="font-family:'Liberation Serif',serif;font-size:8.8px;font-weight:bold;"  stroke="#231f20" stroke-width="0.14">3</text>
<polygon points="257.33,372.52 272.77,372.52 265.05,383.19" fill="#fde4cc" stroke="#dca42a" stroke-width="1.65" stroke-linejoin="miter"/>
<circle cx="265.05" cy="386.20" r="2.2" fill="#c0742a"/>
<text x="265.05" y="379.59999999999997" text-anchor="middle" fill="#231f20" style="font-family:'Liberation Serif',serif;font-size:8.8px;font-weight:bold;"  stroke="#231f20" stroke-width="0.14">4</text>
<polygon points="271.93,382.32 287.07,382.32 279.50,391.99" fill="#a9d5ec" stroke="#1f77a8" stroke-width="1.65" stroke-linejoin="miter"/>
<circle cx="279.50" cy="395.00" r="2.2" fill="#1a6f9e"/>
<text x="279.5" y="389.4" text-anchor="middle" fill="#231f20" style="font-family:'Liberation Serif',serif;font-size:8.8px;font-weight:bold;"  stroke="#231f20" stroke-width="0.14">4</text>
<text x="245.5" y="304.2" text-anchor="start" fill="#231f20" style="font-family:'Liberation Serif',serif;font-size:11px;font-weight:normal;font-style:italic"  stroke="#231f20" stroke-width="0.14">&#949;</text>
<text x="252.10" y="305.00" fill="#231f20" style="font-family:'Liberation Serif',serif;font-size:8.5px;font-weight:bold">'</text>
<text x="254.30" y="306.80" fill="#231f20" stroke="#231f20" stroke-width="0.15" style="font-family:'Liberation Serif',serif;font-size:6.2px;font-style:italic">i1</text>
<text x="239.8" y="314.2" text-anchor="start" fill="#231f20" style="font-family:'Liberation Serif',serif;font-size:11px;font-weight:normal;font-style:italic"  stroke="#231f20" stroke-width="0.14">&#949;</text>
<text x="245.60" y="316.80" fill="#231f20" stroke="#231f20" stroke-width="0.15" style="font-family:'Liberation Serif',serif;font-size:6.2px;font-style:italic">i1</text>
<text x="218.20000000000002" y="327.6" text-anchor="start" fill="#231f20" style="font-family:'Liberation Serif',serif;font-size:11px;font-weight:normal;font-style:italic"  stroke="#231f20" stroke-width="0.14">&#949;</text>
<text x="224.00" y="330.20" fill="#231f20" stroke="#231f20" stroke-width="0.15" style="font-family:'Liberation Serif',serif;font-size:6.2px;font-style:italic">i2</text>
<text x="237.3" y="335.2" text-anchor="start" fill="#231f20" style="font-family:'Liberation Serif',serif;font-size:11px;font-weight:normal;font-style:italic"  stroke="#231f20" stroke-width="0.14">&#949;</text>
<text x="243.90" y="336.00" fill="#231f20" style="font-family:'Liberation Serif',serif;font-size:8.5px;font-weight:bold">'</text>
<text x="246.10" y="337.80" fill="#231f20" stroke="#231f20" stroke-width="0.15" style="font-family:'Liberation Serif',serif;font-size:6.2px;font-style:italic">i2</text>
<text x="228.4" y="359.2" text-anchor="start" fill="#231f20" style="font-family:'Liberation Serif',serif;font-size:11px;font-weight:normal;font-style:italic"  stroke="#231f20" stroke-width="0.14">&#949;</text>
<text x="234.20" y="361.80" fill="#231f20" stroke="#231f20" stroke-width="0.15" style="font-family:'Liberation Serif',serif;font-size:6.2px;font-style:italic">i3</text>
<text x="247.4" y="357.1" text-anchor="start" fill="#231f20" style="font-family:'Liberation Serif',serif;font-size:11px;font-weight:normal;font-style:italic"  stroke="#231f20" stroke-width="0.14">&#949;</text>
<text x="254.00" y="357.90" fill="#231f20" style="font-family:'Liberation Serif',serif;font-size:8.5px;font-weight:bold">'</text>
<text x="256.20" y="359.70" fill="#231f20" stroke="#231f20" stroke-width="0.15" style="font-family:'Liberation Serif',serif;font-size:6.2px;font-style:italic">i3</text>
<text x="278.09999999999997" y="358.2" text-anchor="start" fill="#231f20" style="font-family:'Liberation Serif',serif;font-size:11px;font-weight:normal;font-style:italic"  stroke="#231f20" stroke-width="0.14">&#949;</text>
<text x="284.70" y="359.00" fill="#231f20" style="font-family:'Liberation Serif',serif;font-size:8.5px;font-weight:bold">'</text>
<text x="286.90" y="360.80" fill="#231f20" stroke="#231f20" stroke-width="0.15" style="font-family:'Liberation Serif',serif;font-size:6.2px;font-style:italic">i4</text>
<text x="269.2" y="367" text-anchor="start" fill="#231f20" style="font-family:'Liberation Serif',serif;font-size:11px;font-weight:normal;font-style:italic"  stroke="#231f20" stroke-width="0.14">&#949;</text>
<text x="275.00" y="369.60" fill="#231f20" stroke="#231f20" stroke-width="0.15" style="font-family:'Liberation Serif',serif;font-size:6.2px;font-style:italic">i4</text>
<text x="283.0" y="328.2" text-anchor="start" fill="#231f20" style="font-family:'Liberation Serif',serif;font-size:11px;font-weight:normal;font-style:italic"  stroke="#231f20" stroke-width="0.14">&#949;</text>
<text x="288.80" y="330.80" fill="#231f20" stroke="#231f20" stroke-width="0.15" style="font-family:'Liberation Serif',serif;font-size:6.2px;font-style:italic">i5</text>
<text x="298.2" y="329.5" text-anchor="start" fill="#231f20" style="font-family:'Liberation Serif',serif;font-size:11px;font-weight:normal;font-style:italic"  stroke="#231f20" stroke-width="0.14">&#949;</text>
<text x="304.80" y="330.30" fill="#231f20" style="font-family:'Liberation Serif',serif;font-size:8.5px;font-weight:bold">'</text>
<text x="307.00" y="332.10" fill="#231f20" stroke="#231f20" stroke-width="0.15" style="font-family:'Liberation Serif',serif;font-size:6.2px;font-style:italic">i5</text>
<text x="242.5" y="394.5" text-anchor="middle" fill="#231f20" style="font-family:'Liberation Serif',serif;font-size:7px;font-weight:bold;"  stroke="#231f20" stroke-width="0.14">&#183;&#183;&#183; &#183;&#183;&#183;</text>
<text x="347.8" y="7.8" text-anchor="start" fill="#231f20" style="font-family:'Liberation Sans',sans-serif;font-size:10px;font-weight:bold;"  stroke="#231f20" stroke-width="0.14">f</text>
<text x="346.4" y="132" text-anchor="start" fill="#231f20" style="font-family:'Liberation Sans',sans-serif;font-size:10px;font-weight:bold;"  stroke="#231f20" stroke-width="0.14">i</text>
<text x="347.6" y="282.6" text-anchor="start" fill="#231f20" style="font-family:'Liberation Sans',sans-serif;font-size:10px;font-weight:bold;"  stroke="#231f20" stroke-width="0.14">l</text>
<text x="457.3" y="7.6" text-anchor="start" fill="#231f20" style="font-family:'Liberation Sans',sans-serif;font-size:10px;font-weight:bold;"  stroke="#231f20" stroke-width="0.14">g</text>
<text x="455.8" y="132" text-anchor="start" fill="#231f20" style="font-family:'Liberation Sans',sans-serif;font-size:10px;font-weight:bold;"  stroke="#231f20" stroke-width="0.14">j</text>
<text x="457.3" y="282.6" text-anchor="start" fill="#231f20" style="font-family:'Liberation Sans',sans-serif;font-size:10px;font-weight:bold;"  stroke="#231f20" stroke-width="0.14">m</text>
<text x="576.5" y="7.8" text-anchor="start" fill="#231f20" style="font-family:'Liberation Sans',sans-serif;font-size:10px;font-weight:bold;"  stroke="#231f20" stroke-width="0.14">h</text>
<text x="574.6" y="132" text-anchor="start" fill="#231f20" style="font-family:'Liberation Sans',sans-serif;font-size:10px;font-weight:bold;"  stroke="#231f20" stroke-width="0.14">k</text>
<text x="576.5" y="282.6" text-anchor="start" fill="#231f20" style="font-family:'Liberation Sans',sans-serif;font-size:10px;font-weight:bold;"  stroke="#231f20" stroke-width="0.14">n</text>
<rect x="385.2" y="65.60" width="13.90" height="39.00" fill="#3070d0"/>
<rect x="406.1" y="61.10" width="13.90" height="43.50" fill="#6868c8"/>
<rect x="427.1" y="61.90" width="14.20" height="42.70" fill="#0a88b8"/>
<path d="M392.2,50.40 L392.2,80.50 M388.9,50.40 L395.5,50.40 M388.9,80.50 L395.5,80.50" stroke="#1a1a1a" stroke-width="1.0" fill="none"/>
<g fill="#1a1a1a"><circle cx="392.20" cy="17.20" r="0.8"/><circle cx="393.50" cy="48.10" r="0.8"/><circle cx="391.00" cy="60.50" r="0.8"/><circle cx="392.80" cy="65.90" r="0.8"/><circle cx="391.70" cy="70.60" r="0.8"/><circle cx="393.80" cy="87.20" r="0.8"/><circle cx="390.70" cy="75.00" r="0.8"/><circle cx="393.10" cy="57.00" r="0.8"/></g>
<path d="M413.1,40.50 L413.1,80.50 M409.8,40.50 L416.40000000000003,40.50 M409.8,80.50 L416.40000000000003,80.50" stroke="#1a1a1a" stroke-width="1.0" fill="none"/>
<g fill="#1a1a1a"><circle cx="413.10" cy="35.40" r="0.8"/><circle cx="414.40" cy="37.60" r="0.8"/><circle cx="411.90" cy="73.30" r="0.8"/><circle cx="413.70" cy="81.50" r="0.8"/><circle cx="412.60" cy="90.40" r="0.8"/><circle cx="414.70" cy="62.00" r="0.8"/><circle cx="411.60" cy="55.00" r="0.8"/><circle cx="414.00" cy="68.00" r="0.8"/></g>
<path d="M434.2,44.30 L434.2,78.20 M430.9,44.30 L437.5,44.30 M430.9,78.20 L437.5,78.20" stroke="#1a1a1a" stroke-width="1.0" fill="none"/>
<g fill="#1a1a1a"><circle cx="434.20" cy="22.40" r="0.8"/><circle cx="435.50" cy="31.00" r="0.8"/><circle cx="433.00" cy="38.60" r="0.8"/><circle cx="434.80" cy="51.60" r="0.8"/><circle cx="433.70" cy="68.10" r="0.8"/><circle cx="435.80" cy="71.40" r="0.8"/><circle cx="432.70" cy="81.50" r="0.8"/><circle cx="435.10" cy="85.30" r="0.8"/></g>
<line x1="378.4" y1="15.3" x2="378.4" y2="105.19999999999999" stroke="#231f20" stroke-width="1.1"/>
<line x1="375.2" y1="104.60" x2="378.4" y2="104.60" stroke="#231f20" stroke-width="1.1"/>
<text x="372.59999999999997" y="107.5" text-anchor="end" fill="#231f20" style="font-family:'Liberation Serif',serif;font-size:8.2px;font-weight:normal;"  stroke="#231f20" stroke-width="0.14">0</text>
<line x1="375.2" y1="75.00" x2="378.4" y2="75.00" stroke="#231f20" stroke-width="1.1"/>
<text x="372.59999999999997" y="77.9" text-anchor="end" fill="#231f20" style="font-family:'Liberation Serif',serif;font-size:8.2px;font-weight:normal;"  stroke="#231f20" stroke-width="0.14">20</text>
<line x1="375.2" y1="45.40" x2="378.4" y2="45.40" stroke="#231f20" stroke-width="1.1"/>
<text x="372.59999999999997" y="48.29999999999999" text-anchor="end" fill="#231f20" style="font-family:'Liberation Serif',serif;font-size:8.2px;font-weight:normal;"  stroke="#231f20" stroke-width="0.14">40</text>
<line x1="375.2" y1="15.80" x2="378.4" y2="15.80" stroke="#231f20" stroke-width="1.1"/>
<text x="372.59999999999997" y="18.699999999999996" text-anchor="end" fill="#231f20" style="font-family:'Liberation Serif',serif;font-size:8.2px;font-weight:normal;"  stroke="#231f20" stroke-width="0.14">60</text>
<line x1="375.3" y1="104.6" x2="447.5" y2="104.6" stroke="#231f20" stroke-width="1.1"/>
<line x1="392.2" y1="104.6" x2="392.2" y2="108.19999999999999" stroke="#231f20" stroke-width="1.1"/>
<line x1="413.1" y1="104.6" x2="413.1" y2="108.19999999999999" stroke="#231f20" stroke-width="1.1"/>
<line x1="434.2" y1="104.6" x2="434.2" y2="108.19999999999999" stroke="#231f20" stroke-width="1.1"/>
<text x="394.50" y="116.20" text-anchor="end" transform="rotate(-29.5 394.50 116.20)" fill="#231f20" style="font-family:'Liberation Serif',serif;font-size:8.7px">sham</text>
<text x="415.40" y="116.20" text-anchor="end" transform="rotate(-29.5 415.40 116.20)" fill="#231f20" style="font-family:'Liberation Serif',serif;font-size:8.7px">left EC</text>
<text x="436.50" y="116.20" text-anchor="end" transform="rotate(-29.5 436.50 116.20)" fill="#231f20" style="font-family:'Liberation Serif',serif;font-size:8.7px">right EC</text>
<rect x="501.2" y="65.90" width="7.90" height="38.70" fill="#90d8e8"/>
<rect x="509.1" y="68.30" width="7.80" height="36.30" fill="#108098"/>
<rect x="524.5" y="61.00" width="7.70" height="43.60" fill="#90d8e8"/>
<rect x="532.2" y="73.20" width="7.70" height="31.40" fill="#108098"/>
<rect x="548" y="61.90" width="7.80" height="42.70" fill="#90d8e8"/>
<rect x="555.8" y="72.00" width="7.80" height="32.60" fill="#108098"/>
<path d="M505.15,50.20 L505.15,80.80 M502.54999999999995,50.20 L507.75,50.20 M502.54999999999995,80.80 L507.75,80.80" stroke="#5a6166" stroke-width="1.0" fill="none"/>
<g fill="#45a8cc"><circle cx="505.15" cy="17.60" r="0.75"/><circle cx="506.32" cy="48.20" r="0.75"/><circle cx="504.07" cy="60.30" r="0.75"/><circle cx="505.69" cy="63.30" r="0.75"/><circle cx="504.70" cy="68.40" r="0.75"/><circle cx="506.59" cy="87.50" r="0.75"/><circle cx="503.80" cy="56.00" r="0.75"/></g>
<path d="M513.0,55.30 L513.0,80.80 M510.4,55.30 L515.6,55.30 M510.4,80.80 L515.6,80.80" stroke="#1c2428" stroke-width="1.0" fill="none"/>
<g fill="#1f6f8c"><circle cx="513.00" cy="38.20" r="0.75"/><circle cx="514.17" cy="43.20" r="0.75"/><circle cx="511.92" cy="61.30" r="0.75"/><circle cx="513.54" cy="63.30" r="0.75"/><circle cx="512.55" cy="81.40" r="0.75"/><circle cx="514.44" cy="72.00" r="0.75"/></g>
<path d="M528.35,41.20 L528.35,81.40 M525.75,41.20 L530.95,41.20 M525.75,81.40 L530.95,81.40" stroke="#5a6166" stroke-width="1.0" fill="none"/>
<g fill="#45a8cc"><circle cx="528.35" cy="35.80" r="0.75"/><circle cx="529.52" cy="38.20" r="0.75"/><circle cx="527.27" cy="74.40" r="0.75"/><circle cx="528.89" cy="91.50" r="0.75"/><circle cx="527.90" cy="58.00" r="0.75"/><circle cx="529.79" cy="66.00" r="0.75"/></g>
<path d="M536.05,53.30 L536.05,93.50 M533.4499999999999,53.30 L538.65,53.30 M533.4499999999999,93.50 L538.65,93.50" stroke="#1c2428" stroke-width="1.0" fill="none"/>
<g fill="#1f6f8c"><circle cx="536.05" cy="23.70" r="0.75"/><circle cx="537.22" cy="36.20" r="0.75"/><circle cx="534.97" cy="44.20" r="0.75"/><circle cx="536.59" cy="46.60" r="0.75"/><circle cx="535.60" cy="80.40" r="0.75"/><circle cx="537.49" cy="92.50" r="0.75"/><circle cx="534.70" cy="98.50" r="0.75"/><circle cx="536.86" cy="86.00" r="0.75"/></g>
<path d="M551.9,44.20 L551.9,79.40 M549.3,44.20 L554.5,44.20 M549.3,79.40 L554.5,79.40" stroke="#5a6166" stroke-width="1.0" fill="none"/>
<g fill="#45a8cc"><circle cx="551.90" cy="22.50" r="0.75"/><circle cx="553.07" cy="31.10" r="0.75"/><circle cx="550.82" cy="38.60" r="0.75"/><circle cx="552.44" cy="52.30" r="0.75"/><circle cx="551.45" cy="68.40" r="0.75"/><circle cx="553.34" cy="86.00" r="0.75"/></g>
<path d="M559.7,55.30 L559.7,89.50 M557.1,55.30 L562.3000000000001,55.30 M557.1,89.50 L562.3000000000001,89.50" stroke="#1c2428" stroke-width="1.0" fill="none"/>
<g fill="#1f6f8c"><circle cx="559.70" cy="29.70" r="0.75"/><circle cx="560.87" cy="46.20" r="0.75"/><circle cx="558.62" cy="48.60" r="0.75"/><circle cx="560.24" cy="65.30" r="0.75"/><circle cx="559.25" cy="71.40" r="0.75"/><circle cx="561.14" cy="96.50" r="0.75"/><circle cx="558.35" cy="82.00" r="0.75"/></g>
<line x1="497.3" y1="15.3" x2="497.3" y2="105.19999999999999" stroke="#231f20" stroke-width="1.1"/>
<line x1="494.1" y1="104.60" x2="497.3" y2="104.60" stroke="#231f20" stroke-width="1.1"/>
<text x="489.5" y="107.5" text-anchor="end" fill="#231f20" style="font-family:'Liberation Serif',serif;font-size:8.8px;font-weight:normal;"  stroke="#231f20" stroke-width="0.14">0</text>
<line x1="494.1" y1="75.00" x2="497.3" y2="75.00" stroke="#231f20" stroke-width="1.1"/>
<text x="489.5" y="77.9" text-anchor="end" fill="#231f20" style="font-family:'Liberation Serif',serif;font-size:8.8px;font-weight:normal;"  stroke="#231f20" stroke-width="0.14">20</text>
<line x1="494.1" y1="45.40" x2="497.3" y2="45.40" stroke="#231f20" stroke-width="1.1"/>
<text x="489.5" y="48.29999999999999" text-anchor="end" fill="#231f20" style="font-family:'Liberation Serif',serif;font-size:8.8px;font-weight:normal;"  stroke="#231f20" stroke-width="0.14">40</text>
<line x1="494.1" y1="15.80" x2="497.3" y2="15.80" stroke="#231f20" stroke-width="1.1"/>
<text x="489.5" y="18.699999999999996" text-anchor="end" fill="#231f20" style="font-family:'Liberation Serif',serif;font-size:8.8px;font-weight:normal;"  stroke="#231f20" stroke-width="0.14">60</text>
<line x1="494.3" y1="104.6" x2="567.5" y2="104.6" stroke="#231f20" stroke-width="1.1"/>
<line x1="508.8" y1="104.6" x2="508.8" y2="108.19999999999999" stroke="#231f20" stroke-width="1.1"/>
<line x1="532.2" y1="104.6" x2="532.2" y2="108.19999999999999" stroke="#231f20" stroke-width="1.1"/>
<line x1="555.6" y1="104.6" x2="555.6" y2="108.19999999999999" stroke="#231f20" stroke-width="1.1"/>
<text x="511.10" y="116.20" text-anchor="end" transform="rotate(-29.5 511.10 116.20)" fill="#231f20" style="font-family:'Liberation Serif',serif;font-size:8.7px">sham</text>
<text x="534.50" y="116.20" text-anchor="end" transform="rotate(-29.5 534.50 116.20)" fill="#231f20" style="font-family:'Liberation Serif',serif;font-size:8.7px">left EC</text>
<text x="557.90" y="116.20" text-anchor="end" transform="rotate(-29.5 557.90 116.20)" fill="#231f20" style="font-family:'Liberation Serif',serif;font-size:8.7px">right EC</text>
<rect x="621.3" y="60.20" width="13.70" height="1.70" fill="#3070d0"/>
<rect x="642.3" y="60.20" width="13.70" height="8.70" fill="#6868c8"/>
<rect x="663.3" y="60.20" width="13.70" height="7.40" fill="#0a88b8"/>
<path d="M628,50.20 L628,72.40 M624.2,50.20 L631.8,50.20 M624.2,72.40 L631.8,72.40" stroke="#5e5e5e" stroke-width="1.0" fill="none"/>
<g fill="#1a1a1a"><circle cx="628.00" cy="39.80" r="0.75"/><circle cx="629.30" cy="42.20" r="0.75"/><circle cx="626.80" cy="44.60" r="0.75"/><circle cx="628.60" cy="47.20" r="0.75"/><circle cx="627.50" cy="52.30" r="0.75"/><circle cx="629.60" cy="55.30" r="0.75"/><circle cx="626.50" cy="58.30" r="0.75"/><circle cx="628.90" cy="68.40" r="0.75"/><circle cx="627.20" cy="70.40" r="0.75"/><circle cx="628.20" cy="75.40" r="0.75"/></g>
<path d="M649,46.20 L649,91.50 M645.2,46.20 L652.8,46.20 M645.2,91.50 L652.8,91.50" stroke="#5e5e5e" stroke-width="1.0" fill="none"/>
<g fill="#1a1a1a"><circle cx="649.00" cy="25.70" r="0.75"/><circle cx="650.30" cy="35.80" r="0.75"/><circle cx="647.80" cy="38.20" r="0.75"/><circle cx="649.60" cy="51.90" r="0.75"/><circle cx="648.50" cy="61.30" r="0.75"/><circle cx="650.60" cy="82.40" r="0.75"/><circle cx="647.50" cy="94.50" r="0.75"/><circle cx="649.90" cy="70.00" r="0.75"/></g>
<path d="M670,47.20 L670,87.50 M666.2,47.20 L673.8,47.20 M666.2,87.50 L673.8,87.50" stroke="#5e5e5e" stroke-width="1.0" fill="none"/>
<g fill="#1a1a1a"><circle cx="670.00" cy="21.00" r="0.75"/><circle cx="671.30" cy="53.30" r="0.75"/><circle cx="668.80" cy="55.30" r="0.75"/><circle cx="670.60" cy="77.40" r="0.75"/><circle cx="669.50" cy="84.00" r="0.75"/><circle cx="671.60" cy="85.50" r="0.75"/><circle cx="668.50" cy="103.00" r="0.75"/><circle cx="670.90" cy="64.00" r="0.75"/></g>
<line x1="614.4" y1="60.20" x2="684.5" y2="60.20" stroke="#231f20" stroke-width="1.3"/>
<line x1="614.4" y1="15.300000000000011" x2="614.4" y2="105.19999999999999" stroke="#8a8a8a" stroke-width="1.4"/>
<line x1="611.1999999999999" y1="104.60" x2="614.4" y2="104.60" stroke="#231f20" stroke-width="1.1"/>
<text x="610.0" y="107.5" text-anchor="end" fill="#231f20" style="font-family:'Liberation Serif',serif;font-size:8.6px;font-weight:normal;"  stroke="#231f20" stroke-width="0.14">-40</text>
<line x1="611.1999999999999" y1="82.40" x2="614.4" y2="82.40" stroke="#231f20" stroke-width="1.1"/>
<text x="610.0" y="85.30000000000001" text-anchor="end" fill="#231f20" style="font-family:'Liberation Serif',serif;font-size:8.6px;font-weight:normal;"  stroke="#231f20" stroke-width="0.14">-20</text>
<line x1="611.1999999999999" y1="60.20" x2="614.4" y2="60.20" stroke="#231f20" stroke-width="1.1"/>
<text x="610.0" y="63.1" text-anchor="end" fill="#231f20" style="font-family:'Liberation Serif',serif;font-size:8.6px;font-weight:normal;"  stroke="#231f20" stroke-width="0.14">0</text>
<line x1="611.1999999999999" y1="38.00" x2="614.4" y2="38.00" stroke="#231f20" stroke-width="1.1"/>
<text x="610.0" y="40.9" text-anchor="end" fill="#231f20" style="font-family:'Liberation Serif',serif;font-size:8.6px;font-weight:normal;"  stroke="#231f20" stroke-width="0.14">20</text>
<line x1="611.1999999999999" y1="15.80" x2="614.4" y2="15.80" stroke="#231f20" stroke-width="1.1"/>
<text x="610.0" y="18.70000000000001" text-anchor="end" fill="#231f20" style="font-family:'Liberation Serif',serif;font-size:8.6px;font-weight:normal;"  stroke="#231f20" stroke-width="0.14">40</text>
<line x1="611.3" y1="104.6" x2="685" y2="104.6" stroke="#231f20" stroke-width="1.1"/>
<line x1="628" y1="104.6" x2="628" y2="108.19999999999999" stroke="#231f20" stroke-width="1.1"/>
<line x1="649" y1="104.6" x2="649" y2="108.19999999999999" stroke="#231f20" stroke-width="1.1"/>
<line x1="670" y1="104.6" x2="670" y2="108.19999999999999" stroke="#231f20" stroke-width="1.1"/>
<text x="630.30" y="116.20" text-anchor="end" transform="rotate(-29.5 630.30 116.20)" fill="#231f20" style="font-family:'Liberation Serif',serif;font-size:8.7px">sham</text>
<text x="651.30" y="116.20" text-anchor="end" transform="rotate(-29.5 651.30 116.20)" fill="#231f20" style="font-family:'Liberation Serif',serif;font-size:8.7px">left EC</text>
<text x="672.30" y="116.20" text-anchor="end" transform="rotate(-29.5 672.30 116.20)" fill="#231f20" style="font-family:'Liberation Serif',serif;font-size:8.7px">right EC</text>
<rect x="385.2" y="184.90" width="13.90" height="53.30" fill="#3070d0"/>
<rect x="406.1" y="185.00" width="13.90" height="53.20" fill="#6868c8"/>
<rect x="427.1" y="187.80" width="14.20" height="50.40" fill="#0a88b8"/>
<path d="M392.2,171.80 L392.2,198.30 M388.9,171.80 L395.5,171.80 M388.9,198.30 L395.5,198.30" stroke="#1a1a1a" stroke-width="1.0" fill="none"/>
<g fill="#1a1a1a"><circle cx="392.20" cy="151.40" r="0.8"/><circle cx="393.50" cy="164.10" r="0.8"/><circle cx="391.00" cy="169.50" r="0.8"/><circle cx="392.80" cy="176.20" r="0.8"/><circle cx="391.70" cy="186.20" r="0.8"/><circle cx="393.80" cy="188.30" r="0.8"/><circle cx="390.70" cy="204.40" r="0.8"/><circle cx="393.10" cy="181.00" r="0.8"/></g>
<path d="M413.1,162.50 L413.1,208.40 M409.8,162.50 L416.40000000000003,162.50 M409.8,208.40 L416.40000000000003,208.40" stroke="#1a1a1a" stroke-width="1.0" fill="none"/>
<g fill="#1a1a1a"><circle cx="413.10" cy="175.20" r="0.8"/><circle cx="414.40" cy="181.20" r="0.8"/><circle cx="411.90" cy="187.30" r="0.8"/><circle cx="413.70" cy="197.30" r="0.8"/><circle cx="412.60" cy="199.30" r="0.8"/><circle cx="414.70" cy="211.40" r="0.8"/><circle cx="411.60" cy="170.00" r="0.8"/><circle cx="414.00" cy="192.00" r="0.8"/></g>
<path d="M434.2,176.20 L434.2,199.30 M430.9,176.20 L437.5,176.20 M430.9,199.30 L437.5,199.30" stroke="#1a1a1a" stroke-width="1.0" fill="none"/>
<g fill="#1a1a1a"><circle cx="434.20" cy="169.10" r="0.8"/><circle cx="435.50" cy="174.20" r="0.8"/><circle cx="433.00" cy="181.20" r="0.8"/><circle cx="434.80" cy="188.90" r="0.8"/><circle cx="433.70" cy="197.30" r="0.8"/><circle cx="435.80" cy="206.40" r="0.8"/><circle cx="432.70" cy="193.00" r="0.8"/></g>
<line x1="378.4" y1="148.8" x2="378.4" y2="238.79999999999998" stroke="#231f20" stroke-width="1.1"/>
<line x1="375.2" y1="238.20" x2="378.4" y2="238.20" stroke="#231f20" stroke-width="1.1"/>
<text x="372.09999999999997" y="241.1" text-anchor="end" fill="#231f20" style="font-family:'Liberation Serif',serif;font-size:8.3px;font-weight:normal;"  stroke="#231f20" stroke-width="0.14">0.0</text>
<line x1="375.2" y1="208.57" x2="378.4" y2="208.57" stroke="#231f20" stroke-width="1.1"/>
<text x="372.09999999999997" y="211.46666666666667" text-anchor="end" fill="#231f20" style="font-family:'Liberation Serif',serif;font-size:8.3px;font-weight:normal;"  stroke="#231f20" stroke-width="0.14">0.2</text>
<line x1="375.2" y1="178.93" x2="378.4" y2="178.93" stroke="#231f20" stroke-width="1.1"/>
<text x="372.09999999999997" y="181.83333333333334" text-anchor="end" fill="#231f20" style="font-family:'Liberation Serif',serif;font-size:8.3px;font-weight:normal;"  stroke="#231f20" stroke-width="0.14">0.4</text>
<line x1="375.2" y1="149.30" x2="378.4" y2="149.30" stroke="#231f20" stroke-width="1.1"/>
<text x="372.09999999999997" y="152.20000000000002" text-anchor="end" fill="#231f20" style="font-family:'Liberation Serif',serif;font-size:8.3px;font-weight:normal;"  stroke="#231f20" stroke-width="0.14">0.6</text>
<line x1="375.3" y1="238.2" x2="447.5" y2="238.2" stroke="#231f20" stroke-width="1.1"/>
<line x1="392.2" y1="238.2" x2="392.2" y2="241.79999999999998" stroke="#231f20" stroke-width="1.1"/>
<line x1="413.1" y1="238.2" x2="413.1" y2="241.79999999999998" stroke="#231f20" stroke-width="1.1"/>
<line x1="434.2" y1="238.2" x2="434.2" y2="241.79999999999998" stroke="#231f20" stroke-width="1.1"/>
<text x="394.50" y="249.80" text-anchor="end" transform="rotate(-29.5 394.50 249.80)" fill="#231f20" style="font-family:'Liberation Serif',serif;font-size:8.7px">sham</text>
<text x="415.40" y="249.80" text-anchor="end" transform="rotate(-29.5 415.40 249.80)" fill="#231f20" style="font-family:'Liberation Serif',serif;font-size:8.7px">left EC</text>
<text x="436.50" y="249.80" text-anchor="end" transform="rotate(-29.5 436.50 249.80)" fill="#231f20" style="font-family:'Liberation Serif',serif;font-size:8.7px">right EC</text>
<rect x="501.2" y="184.90" width="7.90" height="53.30" fill="#90d8e8"/>
<rect x="509.1" y="187.10" width="7.80" height="51.10" fill="#108098"/>
<rect x="524.5" y="185.00" width="7.70" height="53.20" fill="#90d8e8"/>
<rect x="532.2" y="203.00" width="7.70" height="35.20" fill="#108098"/>
<rect x="548" y="188.30" width="7.80" height="49.90" fill="#90d8e8"/>
<rect x="555.8" y="199.00" width="7.80" height="39.20" fill="#108098"/>
<path d="M505.15,171.80 L505.15,198.30 M502.54999999999995,171.80 L507.75,171.80 M502.54999999999995,198.30 L507.75,198.30" stroke="#5a6166" stroke-width="1.0" fill="none"/>
<g fill="#45a8cc"><circle cx="505.15" cy="151.40" r="0.75"/><circle cx="506.32" cy="164.10" r="0.75"/><circle cx="504.07" cy="169.50" r="0.75"/><circle cx="505.69" cy="176.20" r="0.75"/><circle cx="504.70" cy="185.20" r="0.75"/><circle cx="506.59" cy="204.40" r="0.75"/><circle cx="503.80" cy="190.00" r="0.75"/></g>
<path d="M513.0,174.20 L513.0,199.30 M510.4,174.20 L515.6,174.20 M510.4,199.30 L515.6,199.30" stroke="#1c2428" stroke-width="1.0" fill="none"/>
<g fill="#1f6f8c"><circle cx="513.00" cy="154.00" r="0.75"/><circle cx="514.17" cy="167.10" r="0.75"/><circle cx="511.92" cy="173.20" r="0.75"/><circle cx="513.54" cy="191.30" r="0.75"/><circle cx="512.55" cy="201.30" r="0.75"/><circle cx="514.44" cy="184.00" r="0.75"/></g>
<path d="M528.35,162.50 L528.35,207.80 M525.75,162.50 L530.95,162.50 M525.75,207.80 L530.95,207.80" stroke="#5a6166" stroke-width="1.0" fill="none"/>
<g fill="#45a8cc"><circle cx="528.35" cy="175.20" r="0.75"/><circle cx="529.52" cy="181.20" r="0.75"/><circle cx="527.27" cy="196.30" r="0.75"/><circle cx="528.89" cy="211.00" r="0.75"/><circle cx="527.90" cy="168.00" r="0.75"/><circle cx="529.79" cy="190.00" r="0.75"/></g>
<path d="M536.05,192.30 L536.05,212.40 M533.4499999999999,192.30 L538.65,192.30 M533.4499999999999,212.40 L538.65,212.40" stroke="#1c2428" stroke-width="1.0" fill="none"/>
<g fill="#1f6f8c"><circle cx="536.05" cy="177.60" r="0.75"/><circle cx="537.22" cy="189.70" r="0.75"/><circle cx="534.97" cy="191.30" r="0.75"/><circle cx="536.59" cy="205.40" r="0.75"/><circle cx="535.60" cy="220.50" r="0.75"/><circle cx="537.49" cy="198.00" r="0.75"/><circle cx="534.70" cy="209.00" r="0.75"/></g>
<path d="M551.9,176.20 L551.9,199.30 M549.3,176.20 L554.5,176.20 M549.3,199.30 L554.5,199.30" stroke="#5a6166" stroke-width="1.0" fill="none"/>
<g fill="#45a8cc"><circle cx="551.90" cy="169.10" r="0.75"/><circle cx="553.07" cy="174.20" r="0.75"/><circle cx="550.82" cy="181.20" r="0.75"/><circle cx="552.44" cy="196.90" r="0.75"/><circle cx="551.45" cy="205.40" r="0.75"/><circle cx="553.34" cy="187.00" r="0.75"/></g>
<path d="M559.7,183.20 L559.7,214.40 M557.1,183.20 L562.3000000000001,183.20 M557.1,214.40 L562.3000000000001,214.40" stroke="#1c2428" stroke-width="1.0" fill="none"/>
<g fill="#1f6f8c"><circle cx="559.70" cy="157.50" r="0.75"/><circle cx="560.87" cy="163.10" r="0.75"/><circle cx="558.62" cy="180.20" r="0.75"/><circle cx="560.24" cy="196.30" r="0.75"/><circle cx="559.25" cy="213.40" r="0.75"/><circle cx="561.14" cy="218.40" r="0.75"/><circle cx="558.35" cy="205.00" r="0.75"/></g>
<line x1="497.3" y1="148.8" x2="497.3" y2="238.79999999999998" stroke="#231f20" stroke-width="1.1"/>
<line x1="494.1" y1="238.20" x2="497.3" y2="238.20" stroke="#231f20" stroke-width="1.1"/>
<text x="489.6" y="241.1" text-anchor="end" fill="#231f20" style="font-family:'Liberation Serif',serif;font-size:8.6px;font-weight:normal;"  stroke="#231f20" stroke-width="0.14">0.0</text>
<line x1="494.1" y1="208.57" x2="497.3" y2="208.57" stroke="#231f20" stroke-width="1.1"/>
<text x="489.6" y="211.46666666666667" text-anchor="end" fill="#231f20" style="font-family:'Liberation Serif',serif;font-size:8.6px;font-weight:normal;"  stroke="#231f20" stroke-width="0.14">0.2</text>
<line x1="494.1" y1="178.93" x2="497.3" y2="178.93" stroke="#231f20" stroke-width="1.1"/>
<text x="489.6" y="181.83333333333334" text-anchor="end" fill="#231f20" style="font-family:'Liberation Serif',serif;font-size:8.6px;font-weight:normal;"  stroke="#231f20" stroke-width="0.14">0.4</text>
<line x1="494.1" y1="149.30" x2="497.3" y2="149.30" stroke="#231f20" stroke-width="1.1"/>
<text x="489.6" y="152.20000000000002" text-anchor="end" fill="#231f20" style="font-family:'Liberation Serif',serif;font-size:8.6px;font-weight:normal;"  stroke="#231f20" stroke-width="0.14">0.6</text>
<line x1="494.3" y1="238.2" x2="567.5" y2="238.2" stroke="#231f20" stroke-width="1.1"/>
<line x1="508.8" y1="238.2" x2="508.8" y2="241.79999999999998" stroke="#231f20" stroke-width="1.1"/>
<line x1="532.2" y1="238.2" x2="532.2" y2="241.79999999999998" stroke="#231f20" stroke-width="1.1"/>
<line x1="555.6" y1="238.2" x2="555.6" y2="241.79999999999998" stroke="#231f20" stroke-width="1.1"/>
<text x="511.10" y="249.80" text-anchor="end" transform="rotate(-29.5 511.10 249.80)" fill="#231f20" style="font-family:'Liberation Serif',serif;font-size:8.7px">sham</text>
<text x="534.50" y="249.80" text-anchor="end" transform="rotate(-29.5 534.50 249.80)" fill="#231f20" style="font-family:'Liberation Serif',serif;font-size:8.7px">left EC</text>
<text x="557.90" y="249.80" text-anchor="end" transform="rotate(-29.5 557.90 249.80)" fill="#231f20" style="font-family:'Liberation Serif',serif;font-size:8.7px">right EC</text>
<rect x="621.3" y="187.30" width="13.70" height="1.70" fill="#3070d0"/>
<rect x="642.3" y="187.30" width="13.70" height="15.00" fill="#6868c8"/>
<rect x="663.3" y="187.30" width="13.70" height="9.60" fill="#0a88b8"/>
<path d="M628,173.20 L628,204.40 M624.2,173.20 L631.8,173.20 M624.2,204.40 L631.8,204.40" stroke="#5e5e5e" stroke-width="1.0" fill="none"/>
<g fill="#1a1a1a"><circle cx="628.00" cy="159.50" r="0.75"/><circle cx="629.30" cy="162.10" r="0.75"/><circle cx="626.80" cy="169.10" r="0.75"/><circle cx="628.60" cy="183.20" r="0.75"/><circle cx="627.50" cy="191.30" r="0.75"/><circle cx="629.60" cy="198.30" r="0.75"/><circle cx="626.50" cy="201.30" r="0.75"/><circle cx="628.90" cy="215.80" r="0.75"/></g>
<path d="M649,180.20 L649,224.50 M645.2,180.20 L652.8,180.20 M645.2,224.50 L652.8,224.50" stroke="#5e5e5e" stroke-width="1.0" fill="none"/>
<g fill="#1a1a1a"><circle cx="649.00" cy="166.10" r="0.75"/><circle cx="650.30" cy="174.80" r="0.75"/><circle cx="647.80" cy="191.70" r="0.75"/><circle cx="649.60" cy="198.30" r="0.75"/><circle cx="648.50" cy="202.30" r="0.75"/><circle cx="650.60" cy="211.40" r="0.75"/><circle cx="647.50" cy="186.00" r="0.75"/></g>
<path d="M670,180.80 L670,212.40 M666.2,180.80 L673.8,180.80 M666.2,212.40 L673.8,212.40" stroke="#5e5e5e" stroke-width="1.0" fill="none"/>
<g fill="#1a1a1a"><circle cx="670.00" cy="161.50" r="0.75"/><circle cx="671.30" cy="174.80" r="0.75"/><circle cx="668.80" cy="177.20" r="0.75"/><circle cx="670.60" cy="194.30" r="0.75"/><circle cx="669.50" cy="203.40" r="0.75"/><circle cx="671.60" cy="213.40" r="0.75"/><circle cx="668.50" cy="218.40" r="0.75"/><circle cx="670.90" cy="188.00" r="0.75"/></g>
<line x1="614.4" y1="187.30" x2="684.5" y2="187.30" stroke="#231f20" stroke-width="1.3"/>
<line x1="614.4" y1="149.3833333333333" x2="614.4" y2="238.79999999999998" stroke="#8a8a8a" stroke-width="1.4"/>
<line x1="611.1999999999999" y1="238.20" x2="614.4" y2="238.20" stroke="#231f20" stroke-width="1.1"/>
<text x="610.8" y="241.1" text-anchor="end" fill="#231f20" style="font-family:'Liberation Serif',serif;font-size:8.4px;font-weight:normal;"  stroke="#231f20" stroke-width="0.14">-0.4</text>
<line x1="611.1999999999999" y1="212.97" x2="614.4" y2="212.97" stroke="#231f20" stroke-width="1.1"/>
<text x="610.8" y="215.86666666666665" text-anchor="end" fill="#231f20" style="font-family:'Liberation Serif',serif;font-size:8.4px;font-weight:normal;"  stroke="#231f20" stroke-width="0.14">-0.2</text>
<line x1="611.1999999999999" y1="187.73" x2="614.4" y2="187.73" stroke="#231f20" stroke-width="1.1"/>
<text x="610.8" y="190.6333333333333" text-anchor="end" fill="#231f20" style="font-family:'Liberation Serif',serif;font-size:8.4px;font-weight:normal;"  stroke="#231f20" stroke-width="0.14">0</text>
<line x1="611.1999999999999" y1="162.50" x2="614.4" y2="162.50" stroke="#231f20" stroke-width="1.1"/>
<text x="610.8" y="165.39999999999995" text-anchor="end" fill="#231f20" style="font-family:'Liberation Serif',serif;font-size:8.4px;font-weight:normal;"  stroke="#231f20" stroke-width="0.14">0.2</text>
<line x1="611.3" y1="238.2" x2="685" y2="238.2" stroke="#231f20" stroke-width="1.1"/>
<line x1="628" y1="238.2" x2="628" y2="241.79999999999998" stroke="#231f20" stroke-width="1.1"/>
<line x1="649" y1="238.2" x2="649" y2="241.79999999999998" stroke="#231f20" stroke-width="1.1"/>
<line x1="670" y1="238.2" x2="670" y2="241.79999999999998" stroke="#231f20" stroke-width="1.1"/>
<text x="630.30" y="249.80" text-anchor="end" transform="rotate(-29.5 630.30 249.80)" fill="#231f20" style="font-family:'Liberation Serif',serif;font-size:8.7px">sham</text>
<text x="651.30" y="249.80" text-anchor="end" transform="rotate(-29.5 651.30 249.80)" fill="#231f20" style="font-family:'Liberation Serif',serif;font-size:8.7px">left EC</text>
<text x="672.30" y="249.80" text-anchor="end" transform="rotate(-29.5 672.30 249.80)" fill="#231f20" style="font-family:'Liberation Serif',serif;font-size:8.7px">right EC</text>
<rect x="385.2" y="324.30" width="13.90" height="51.00" fill="#3070d0"/>
<rect x="406.1" y="324.30" width="13.90" height="51.00" fill="#6868c8"/>
<rect x="427.1" y="324.30" width="14.20" height="51.00" fill="#0a88b8"/>
<path d="M392.2,312.20 L392.2,336.30 M388.9,312.20 L395.5,312.20 M388.9,336.30 L395.5,336.30" stroke="#1a1a1a" stroke-width="1.0" fill="none"/>
<g fill="#1a1a1a"><circle cx="392.20" cy="294.50" r="0.8"/><circle cx="393.50" cy="306.80" r="0.8"/><circle cx="391.00" cy="312.20" r="0.8"/><circle cx="392.80" cy="323.30" r="0.8"/><circle cx="391.70" cy="327.90" r="0.8"/><circle cx="393.80" cy="331.30" r="0.8"/><circle cx="390.70" cy="339.40" r="0.8"/><circle cx="393.10" cy="343.40" r="0.8"/></g>
<path d="M413.1,308.20 L413.1,340.40 M409.8,308.20 L416.40000000000003,308.20 M409.8,340.40 L416.40000000000003,340.40" stroke="#1a1a1a" stroke-width="1.0" fill="none"/>
<g fill="#1a1a1a"><circle cx="413.10" cy="300.50" r="0.8"/><circle cx="414.40" cy="315.80" r="0.8"/><circle cx="411.90" cy="327.30" r="0.8"/><circle cx="413.70" cy="329.30" r="0.8"/><circle cx="412.60" cy="335.90" r="0.8"/><circle cx="414.70" cy="353.40" r="0.8"/><circle cx="411.60" cy="320.00" r="0.8"/></g>
<path d="M434.2,311.20 L434.2,336.30 M430.9,311.20 L437.5,311.20 M430.9,336.30 L437.5,336.30" stroke="#1a1a1a" stroke-width="1.0" fill="none"/>
<g fill="#1a1a1a"><circle cx="434.20" cy="296.50" r="0.8"/><circle cx="435.50" cy="306.20" r="0.8"/><circle cx="433.00" cy="322.30" r="0.8"/><circle cx="434.80" cy="329.30" r="0.8"/><circle cx="433.70" cy="332.70" r="0.8"/><circle cx="435.80" cy="340.40" r="0.8"/><circle cx="432.70" cy="316.00" r="0.8"/></g>
<line x1="378.4" y1="285.7" x2="378.4" y2="375.90000000000003" stroke="#231f20" stroke-width="1.1"/>
<line x1="375.2" y1="375.30" x2="378.4" y2="375.30" stroke="#231f20" stroke-width="1.1"/>
<text x="371.2" y="378.7" text-anchor="end" fill="#231f20" style="font-family:'Liberation Serif',serif;font-size:8.3px;font-weight:normal;"  stroke="#231f20" stroke-width="0.14">0</text>
<line x1="375.2" y1="353.02" x2="378.4" y2="353.02" stroke="#231f20" stroke-width="1.1"/>
<text x="371.2" y="356.42499999999995" text-anchor="end" fill="#231f20" style="font-family:'Liberation Serif',serif;font-size:8.3px;font-weight:normal;"  stroke="#231f20" stroke-width="0.14">1</text>
<line x1="375.2" y1="330.75" x2="378.4" y2="330.75" stroke="#231f20" stroke-width="1.1"/>
<text x="371.2" y="334.15" text-anchor="end" fill="#231f20" style="font-family:'Liberation Serif',serif;font-size:8.3px;font-weight:normal;"  stroke="#231f20" stroke-width="0.14">2</text>
<line x1="375.2" y1="308.48" x2="378.4" y2="308.48" stroke="#231f20" stroke-width="1.1"/>
<text x="371.2" y="311.875" text-anchor="end" fill="#231f20" style="font-family:'Liberation Serif',serif;font-size:8.3px;font-weight:normal;"  stroke="#231f20" stroke-width="0.14">3</text>
<line x1="375.2" y1="286.20" x2="378.4" y2="286.20" stroke="#231f20" stroke-width="1.1"/>
<text x="371.2" y="289.59999999999997" text-anchor="end" fill="#231f20" style="font-family:'Liberation Serif',serif;font-size:8.3px;font-weight:normal;"  stroke="#231f20" stroke-width="0.14">4</text>
<line x1="375.3" y1="375.3" x2="447.5" y2="375.3" stroke="#231f20" stroke-width="1.1"/>
<line x1="392.2" y1="375.3" x2="392.2" y2="378.90000000000003" stroke="#231f20" stroke-width="1.1"/>
<line x1="413.1" y1="375.3" x2="413.1" y2="378.90000000000003" stroke="#231f20" stroke-width="1.1"/>
<line x1="434.2" y1="375.3" x2="434.2" y2="378.90000000000003" stroke="#231f20" stroke-width="1.1"/>
<text x="394.50" y="386.90" text-anchor="end" transform="rotate(-29.5 394.50 386.90)" fill="#231f20" style="font-family:'Liberation Serif',serif;font-size:8.7px">sham</text>
<text x="415.40" y="386.90" text-anchor="end" transform="rotate(-29.5 415.40 386.90)" fill="#231f20" style="font-family:'Liberation Serif',serif;font-size:8.7px">left EC</text>
<text x="436.50" y="386.90" text-anchor="end" transform="rotate(-29.5 436.50 386.90)" fill="#231f20" style="font-family:'Liberation Serif',serif;font-size:8.7px">right EC</text>
<rect x="501.2" y="324.30" width="7.90" height="51.00" fill="#90d8e8"/>
<rect x="509.1" y="325.30" width="7.80" height="50.00" fill="#108098"/>
<rect x="524.5" y="324.30" width="7.70" height="51.00" fill="#90d8e8"/>
<rect x="532.2" y="337.30" width="7.70" height="38.00" fill="#108098"/>
<rect x="548" y="324.30" width="7.80" height="51.00" fill="#90d8e8"/>
<rect x="555.8" y="336.90" width="7.80" height="38.40" fill="#108098"/>
<path d="M505.15,312.20 L505.15,336.30 M502.54999999999995,312.20 L507.75,312.20 M502.54999999999995,336.30 L507.75,336.30" stroke="#5a6166" stroke-width="1.0" fill="none"/>
<g fill="#45a8cc"><circle cx="505.15" cy="294.50" r="0.75"/><circle cx="506.32" cy="306.80" r="0.75"/><circle cx="504.07" cy="312.20" r="0.75"/><circle cx="505.69" cy="322.30" r="0.75"/><circle cx="504.70" cy="328.30" r="0.75"/><circle cx="506.59" cy="338.40" r="0.75"/><circle cx="503.80" cy="343.40" r="0.75"/></g>
<path d="M513.0,314.20 L513.0,336.70 M510.4,314.20 L515.6,314.20 M510.4,336.70 L515.6,336.70" stroke="#1c2428" stroke-width="1.0" fill="none"/>
<g fill="#1f6f8c"><circle cx="513.00" cy="301.70" r="0.75"/><circle cx="514.17" cy="311.20" r="0.75"/><circle cx="511.92" cy="327.30" r="0.75"/><circle cx="513.54" cy="333.30" r="0.75"/><circle cx="512.55" cy="320.00" r="0.75"/></g>
<path d="M528.35,308.20 L528.35,340.40 M525.75,308.20 L530.95,308.20 M525.75,340.40 L530.95,340.40" stroke="#5a6166" stroke-width="1.0" fill="none"/>
<g fill="#45a8cc"><circle cx="528.35" cy="300.10" r="0.75"/><circle cx="529.52" cy="316.20" r="0.75"/><circle cx="527.27" cy="327.90" r="0.75"/><circle cx="528.89" cy="353.40" r="0.75"/><circle cx="527.90" cy="334.00" r="0.75"/></g>
<path d="M536.05,325.30 L536.05,349.40 M533.4499999999999,325.30 L538.65,325.30 M533.4499999999999,349.40 L538.65,349.40" stroke="#1c2428" stroke-width="1.0" fill="none"/>
<g fill="#1f6f8c"><circle cx="536.05" cy="307.20" r="0.75"/><circle cx="537.22" cy="316.20" r="0.75"/><circle cx="534.97" cy="329.30" r="0.75"/><circle cx="536.59" cy="332.30" r="0.75"/><circle cx="535.60" cy="342.40" r="0.75"/><circle cx="537.49" cy="356.50" r="0.75"/><circle cx="534.70" cy="338.00" r="0.75"/></g>
<path d="M551.9,311.20 L551.9,336.30 M549.3,311.20 L554.5,311.20 M549.3,336.30 L554.5,336.30" stroke="#5a6166" stroke-width="1.0" fill="none"/>
<g fill="#45a8cc"><circle cx="551.90" cy="296.10" r="0.75"/><circle cx="553.07" cy="306.20" r="0.75"/><circle cx="550.82" cy="329.30" r="0.75"/><circle cx="552.44" cy="334.30" r="0.75"/><circle cx="551.45" cy="318.00" r="0.75"/></g>
<path d="M559.7,324.30 L559.7,349.40 M557.1,324.30 L562.3000000000001,324.30 M557.1,349.40 L562.3000000000001,349.40" stroke="#1c2428" stroke-width="1.0" fill="none"/>
<g fill="#1f6f8c"><circle cx="559.70" cy="304.10" r="0.75"/><circle cx="560.87" cy="310.20" r="0.75"/><circle cx="558.62" cy="315.20" r="0.75"/><circle cx="560.24" cy="320.20" r="0.75"/><circle cx="559.25" cy="342.40" r="0.75"/><circle cx="561.14" cy="351.40" r="0.75"/><circle cx="558.35" cy="338.00" r="0.75"/></g>
<line x1="497.3" y1="285.7" x2="497.3" y2="375.90000000000003" stroke="#231f20" stroke-width="1.1"/>
<line x1="494.1" y1="375.30" x2="497.3" y2="375.30" stroke="#231f20" stroke-width="1.1"/>
<text x="488.3" y="378.7" text-anchor="end" fill="#231f20" style="font-family:'Liberation Serif',serif;font-size:8.6px;font-weight:normal;"  stroke="#231f20" stroke-width="0.14">0</text>
<line x1="494.1" y1="353.02" x2="497.3" y2="353.02" stroke="#231f20" stroke-width="1.1"/>
<text x="488.3" y="356.42499999999995" text-anchor="end" fill="#231f20" style="font-family:'Liberation Serif',serif;font-size:8.6px;font-weight:normal;"  stroke="#231f20" stroke-width="0.14">1</text>
<line x1="494.1" y1="330.75" x2="497.3" y2="330.75" stroke="#231f20" stroke-width="1.1"/>
<text x="488.3" y="334.15" text-anchor="end" fill="#231f20" style="font-family:'Liberation Serif',serif;font-size:8.6px;font-weight:normal;"  stroke="#231f20" stroke-width="0.14">2</text>
<line x1="494.1" y1="308.48" x2="497.3" y2="308.48" stroke="#231f20" stroke-width="1.1"/>
<text x="488.3" y="311.875" text-anchor="end" fill="#231f20" style="font-family:'Liberation Serif',serif;font-size:8.6px;font-weight:normal;"  stroke="#231f20" stroke-width="0.14">3</text>
<line x1="494.1" y1="286.20" x2="497.3" y2="286.20" stroke="#231f20" stroke-width="1.1"/>
<text x="488.3" y="289.59999999999997" text-anchor="end" fill="#231f20" style="font-family:'Liberation Serif',serif;font-size:8.6px;font-weight:normal;"  stroke="#231f20" stroke-width="0.14">4</text>
<line x1="494.3" y1="375.3" x2="567.5" y2="375.3" stroke="#231f20" stroke-width="1.1"/>
<line x1="508.8" y1="375.3" x2="508.8" y2="378.90000000000003" stroke="#231f20" stroke-width="1.1"/>
<line x1="532.2" y1="375.3" x2="532.2" y2="378.90000000000003" stroke="#231f20" stroke-width="1.1"/>
<line x1="555.6" y1="375.3" x2="555.6" y2="378.90000000000003" stroke="#231f20" stroke-width="1.1"/>
<text x="511.10" y="386.90" text-anchor="end" transform="rotate(-29.5 511.10 386.90)" fill="#231f20" style="font-family:'Liberation Serif',serif;font-size:8.7px">sham</text>
<text x="534.50" y="386.90" text-anchor="end" transform="rotate(-29.5 534.50 386.90)" fill="#231f20" style="font-family:'Liberation Serif',serif;font-size:8.7px">left EC</text>
<text x="557.90" y="386.90" text-anchor="end" transform="rotate(-29.5 557.90 386.90)" fill="#231f20" style="font-family:'Liberation Serif',serif;font-size:8.7px">right EC</text>
<rect x="642.3" y="322.30" width="13.70" height="10.40" fill="#6868c8"/>
<rect x="663.3" y="322.30" width="13.70" height="10.40" fill="#0a88b8"/>
<path d="M628,311.20 L628,334.30 M624.2,311.20 L631.8,311.20 M624.2,334.30 L631.8,334.30" stroke="#5e5e5e" stroke-width="1.0" fill="none"/>
<g fill="#1a1a1a"><circle cx="628.00" cy="297.10" r="0.75"/><circle cx="629.30" cy="301.10" r="0.75"/><circle cx="626.80" cy="302.10" r="0.75"/><circle cx="628.60" cy="316.20" r="0.75"/><circle cx="627.50" cy="326.30" r="0.75"/><circle cx="629.60" cy="328.30" r="0.75"/><circle cx="626.50" cy="331.90" r="0.75"/><circle cx="628.90" cy="338.80" r="0.75"/></g>
<path d="M649,315.20 L649,350.40 M645.2,315.20 L652.8,315.20 M645.2,350.40 L652.8,350.40" stroke="#5e5e5e" stroke-width="1.0" fill="none"/>
<g fill="#1a1a1a"><circle cx="649.00" cy="295.10" r="0.75"/><circle cx="650.30" cy="310.20" r="0.75"/><circle cx="647.80" cy="312.60" r="0.75"/><circle cx="649.60" cy="330.30" r="0.75"/><circle cx="648.50" cy="338.00" r="0.75"/><circle cx="650.60" cy="360.10" r="0.75"/><circle cx="647.50" cy="373.00" r="0.75"/><circle cx="649.90" cy="322.00" r="0.75"/></g>
<path d="M670,316.20 L670,348.40 M666.2,316.20 L673.8,316.20 M666.2,348.40 L673.8,348.40" stroke="#5e5e5e" stroke-width="1.0" fill="none"/>
<g fill="#1a1a1a"><circle cx="670.00" cy="301.10" r="0.75"/><circle cx="671.30" cy="303.10" r="0.75"/><circle cx="668.80" cy="311.80" r="0.75"/><circle cx="670.60" cy="321.20" r="0.75"/><circle cx="669.50" cy="333.30" r="0.75"/><circle cx="671.60" cy="342.40" r="0.75"/><circle cx="668.50" cy="351.40" r="0.75"/><circle cx="670.90" cy="361.50" r="0.75"/></g>
<line x1="614.4" y1="322.30" x2="684.5" y2="322.30" stroke="#231f20" stroke-width="1.3"/>
<line x1="614.4" y1="285.7" x2="614.4" y2="375.90000000000003" stroke="#8a8a8a" stroke-width="1.4"/>
<line x1="611.1999999999999" y1="375.30" x2="614.4" y2="375.30" stroke="#231f20" stroke-width="1.1"/>
<text x="608.4" y="378.5" text-anchor="end" fill="#231f20" style="font-family:'Liberation Serif',serif;font-size:8.4px;font-weight:normal;"  stroke="#231f20" stroke-width="0.14">-3</text>
<line x1="611.1999999999999" y1="357.48" x2="614.4" y2="357.48" stroke="#231f20" stroke-width="1.1"/>
<text x="608.4" y="360.68" text-anchor="end" fill="#231f20" style="font-family:'Liberation Serif',serif;font-size:8.4px;font-weight:normal;"  stroke="#231f20" stroke-width="0.14">-2</text>
<line x1="611.1999999999999" y1="339.66" x2="614.4" y2="339.66" stroke="#231f20" stroke-width="1.1"/>
<text x="608.4" y="342.86" text-anchor="end" fill="#231f20" style="font-family:'Liberation Serif',serif;font-size:8.4px;font-weight:normal;"  stroke="#231f20" stroke-width="0.14">-1</text>
<line x1="611.1999999999999" y1="321.84" x2="614.4" y2="321.84" stroke="#231f20" stroke-width="1.1"/>
<text x="608.4" y="325.04" text-anchor="end" fill="#231f20" style="font-family:'Liberation Serif',serif;font-size:8.4px;font-weight:normal;"  stroke="#231f20" stroke-width="0.14">0</text>
<line x1="611.1999999999999" y1="304.02" x2="614.4" y2="304.02" stroke="#231f20" stroke-width="1.1"/>
<text x="608.4" y="307.21999999999997" text-anchor="end" fill="#231f20" style="font-family:'Liberation Serif',serif;font-size:8.4px;font-weight:normal;"  stroke="#231f20" stroke-width="0.14">1</text>
<line x1="611.1999999999999" y1="286.20" x2="614.4" y2="286.20" stroke="#231f20" stroke-width="1.1"/>
<text x="608.4" y="289.4" text-anchor="end" fill="#231f20" style="font-family:'Liberation Serif',serif;font-size:8.4px;font-weight:normal;"  stroke="#231f20" stroke-width="0.14">2</text>
<line x1="611.3" y1="375.3" x2="685" y2="375.3" stroke="#231f20" stroke-width="1.1"/>
<line x1="628" y1="375.3" x2="628" y2="378.90000000000003" stroke="#231f20" stroke-width="1.1"/>
<line x1="649" y1="375.3" x2="649" y2="378.90000000000003" stroke="#231f20" stroke-width="1.1"/>
<line x1="670" y1="375.3" x2="670" y2="378.90000000000003" stroke="#231f20" stroke-width="1.1"/>
<text x="630.30" y="386.90" text-anchor="end" transform="rotate(-29.5 630.30 386.90)" fill="#231f20" style="font-family:'Liberation Serif',serif;font-size:8.7px">sham</text>
<text x="651.30" y="386.90" text-anchor="end" transform="rotate(-29.5 651.30 386.90)" fill="#231f20" style="font-family:'Liberation Serif',serif;font-size:8.7px">left EC</text>
<text x="672.30" y="386.90" text-anchor="end" transform="rotate(-29.5 672.30 386.90)" fill="#231f20" style="font-family:'Liberation Serif',serif;font-size:8.7px">right EC</text>
<text x="357.8" y="61" text-anchor="middle" textLength="40.7" lengthAdjust="spacingAndGlyphs" transform="rotate(-90 357.8 61)" fill="#231f20" stroke="#231f20" stroke-width="0.14" style="font-family:'Liberation Serif',serif;font-size:8.6px">Base values</text>
<text x="476.4" y="60.8" text-anchor="middle" textLength="91" lengthAdjust="spacingAndGlyphs" transform="rotate(-90 476.4 60.8)" fill="#231f20" stroke="#231f20" stroke-width="0.14" style="font-family:'Liberation Serif',serif;font-size:9.6px">Intra-group comparison</text>
<text x="593.6" y="61.4" text-anchor="middle" textLength="94.5" lengthAdjust="spacingAndGlyphs" transform="rotate(-90 593.6 61.4)" fill="#231f20" stroke="#231f20" stroke-width="0.14" style="font-family:'Liberation Serif',serif;font-size:9.3px">Diff between pre and post</text>
<text x="357.8" y="193.2" text-anchor="middle" textLength="40.7" lengthAdjust="spacingAndGlyphs" transform="rotate(-90 357.8 193.2)" fill="#231f20" stroke="#231f20" stroke-width="0.14" style="font-family:'Liberation Serif',serif;font-size:8.6px">Base values</text>
<text x="476.4" y="195" text-anchor="middle" textLength="91" lengthAdjust="spacingAndGlyphs" transform="rotate(-90 476.4 195)" fill="#231f20" stroke="#231f20" stroke-width="0.14" style="font-family:'Liberation Serif',serif;font-size:9.6px">Intra-group comparison</text>
<text x="593.6" y="196" text-anchor="middle" textLength="94.5" lengthAdjust="spacingAndGlyphs" transform="rotate(-90 593.6 196)" fill="#231f20" stroke="#231f20" stroke-width="0.14" style="font-family:'Liberation Serif',serif;font-size:9.3px">Diff between pre and post</text>
<text x="357.8" y="331" text-anchor="middle" textLength="40.7" lengthAdjust="spacingAndGlyphs" transform="rotate(-90 357.8 331)" fill="#231f20" stroke="#231f20" stroke-width="0.14" style="font-family:'Liberation Serif',serif;font-size:8.6px">Base values</text>
<text x="475.2" y="333.5" text-anchor="middle" textLength="91" lengthAdjust="spacingAndGlyphs" transform="rotate(-90 475.2 333.5)" fill="#231f20" stroke="#231f20" stroke-width="0.14" style="font-family:'Liberation Serif',serif;font-size:9.6px">Intra-group comparison</text>
<text x="593.6" y="331" text-anchor="middle" textLength="94.5" lengthAdjust="spacingAndGlyphs" transform="rotate(-90 593.6 331)" fill="#231f20" stroke="#231f20" stroke-width="0.14" style="font-family:'Liberation Serif',serif;font-size:9.3px">Diff between pre and post</text>
<text x="483.8" y="5.6" text-anchor="start" fill="#231f20" style="font-family:'Liberation Serif',serif;font-size:9px;font-weight:normal;"  textLength="10.5" lengthAdjust="spacingAndGlyphs" stroke="#231f20" stroke-width="0.14">pre</text>
<rect x="496.3" y="1.2" width="21.7" height="3.3" fill="#90d8e8"/>
<text x="523.6" y="5.6" text-anchor="start" fill="#231f20" style="font-family:'Liberation Serif',serif;font-size:9px;font-weight:normal;"  textLength="14.4" lengthAdjust="spacingAndGlyphs" stroke="#231f20" stroke-width="0.14">post</text>
<rect x="540.3" y="1.2" width="21.6" height="3.3" fill="#108098"/>
<path d="M528.3,154.0 L528.3,150.2 L536.2,150.2 L536.2,154.0" stroke="#231f20" stroke-width="1.0" fill="none"/>
<text x="532.25" y="150.6" text-anchor="middle" fill="#231f20" style="font-family:'Liberation Serif',serif;font-size:8.5px;font-weight:bold;"  stroke="#231f20" stroke-width="0.14">**</text>
<path d="M551.5,154.0 L551.5,150.2 L559.6,150.2 L559.6,154.0" stroke="#231f20" stroke-width="1.0" fill="none"/>
<text x="555.55" y="150.6" text-anchor="middle" fill="#231f20" style="font-family:'Liberation Serif',serif;font-size:8.5px;font-weight:bold;"  stroke="#231f20" stroke-width="0.14">*</text>
<path d="M628.2,156.4 L628.2,152.6 L649.2,152.6 L649.2,156.4" stroke="#231f20" stroke-width="1.0" fill="none"/>
<text x="638.7" y="152.4" text-anchor="middle" fill="#231f20" style="font-family:'Liberation Serif',serif;font-size:8.5px;font-weight:bold;"  stroke="#231f20" stroke-width="0.14">*</text>
<path d="M529.0,294.3 L529.0,290.5 L537.0,290.5 L537.0,294.3" stroke="#231f20" stroke-width="1.0" fill="none"/>
<text x="533.0" y="290.9" text-anchor="middle" fill="#231f20" style="font-family:'Liberation Serif',serif;font-size:8.5px;font-weight:bold;"  stroke="#231f20" stroke-width="0.14">**</text>
<path d="M551.5,294.3 L551.5,290.5 L559.6,290.5 L559.6,294.3" stroke="#231f20" stroke-width="1.0" fill="none"/>
<text x="555.55" y="290.9" text-anchor="middle" fill="#231f20" style="font-family:'Liberation Serif',serif;font-size:8.5px;font-weight:bold;"  stroke="#231f20" stroke-width="0.14">**</text>
<polygon points="9.26,415.65 25.54,415.65 17.40,427.27" fill="#a9d5ec" stroke="#1f77a8" stroke-width="1.7" stroke-linejoin="miter"/>
<polygon points="134.36,415.95 150.14,415.95 142.25,427.38" fill="#fde4cc" stroke="#dca42a" stroke-width="1.7" stroke-linejoin="miter"/>
<polygon points="268.26,415.95 283.64,415.95 275.95,427.38" fill="#9ccb8c" stroke="#74b064" stroke-width="1.7" stroke-linejoin="miter"/>
<text x="35.2" y="424.5" text-anchor="start" fill="#231f20" style="font-family:'Liberation Serif',serif;font-size:9.45px;font-weight:normal;"  textLength="37.4" lengthAdjust="spacingAndGlyphs" stroke="#231f20" stroke-width="0.14">True cone</text>
<text x="159.1" y="424.5" text-anchor="start" fill="#231f20" style="font-family:'Liberation Serif',serif;font-size:9.45px;font-weight:normal;"  textLength="58" lengthAdjust="spacingAndGlyphs" stroke="#231f20" stroke-width="0.14">Estimated cone</text>
<text x="292.8" y="424.5" text-anchor="start" fill="#231f20" style="font-family:'Liberation Serif',serif;font-size:9.45px;font-weight:normal;"  textLength="58.7" lengthAdjust="spacingAndGlyphs" stroke="#231f20" stroke-width="0.14">Reference cone</text>
<g stroke="#1b6f9c" stroke-width="2.1"><line x1="398.9" y1="417.4" x2="398.9" y2="425"/><line x1="398.9" y1="421.2" x2="401.3" y2="421.2"/><line x1="405.4" y1="421.2" x2="408.8" y2="421.2"/><line x1="412.8" y1="421.2" x2="415" y2="421.2"/><line x1="415" y1="417.4" x2="415" y2="425"/></g>
<g stroke="#f2b42a" stroke-width="2.1"><line x1="522.0" y1="417.4" x2="522.0" y2="425"/><line x1="522.0" y1="421.2" x2="524.4" y2="421.2"/><line x1="528.5" y1="421.2" x2="531.9" y2="421.2"/><line x1="535.9" y1="421.2" x2="538.1" y2="421.2"/><line x1="538.1" y1="417.4" x2="538.1" y2="425"/></g>
<text x="424.9" y="424.5" text-anchor="start" fill="#231f20" style="font-family:'Liberation Serif',serif;font-size:9.45px;font-weight:normal;"  textLength="50.840999999999994" lengthAdjust="spacingAndGlyphs" stroke="#231f20" stroke-width="0.14">True distance</text>
<line x1="477.5" y1="417.6" x2="477.5" y2="425.2" stroke="#555" stroke-width="0.9"/><line x1="488" y1="417.6" x2="488" y2="425.2" stroke="#c4c4c4" stroke-width="1.3"/>
<text x="479.9" y="424.0" text-anchor="start" fill="#2a2a2a" style="font-family:'Liberation Serif',serif;font-size:8.6px;font-weight:normal;"  textLength="5.7" lengthAdjust="spacingAndGlyphs" stroke="#2a2a2a" stroke-width="0.14">D</text>
<text x="548.4" y="424.5" text-anchor="start" fill="#231f20" style="font-family:'Liberation Serif',serif;font-size:9.45px;font-weight:normal;"  textLength="71.11125" lengthAdjust="spacingAndGlyphs" stroke="#231f20" stroke-width="0.14">Estimated distance</text>
<line x1="622.2" y1="417.6" x2="622.2" y2="425.2" stroke="#c4c4c4" stroke-width="1.3"/><line x1="633" y1="417.6" x2="633" y2="425.2" stroke="#c4c4c4" stroke-width="1.3"/>
<text x="624.6" y="424.0" text-anchor="start" fill="#2a2a2a" style="font-family:'Liberation Serif',serif;font-size:8.6px;font-weight:normal;"  textLength="6.6" lengthAdjust="spacingAndGlyphs" stroke="#2a2a2a" stroke-width="0.14">D'</text>
<text x="17.0" y="447.4" text-anchor="middle" fill="#231f20" style="font-family:'Liberation Serif',serif;font-size:11.5px;font-weight:normal;font-style:italic"  stroke="#231f20" stroke-width="0.14">A</text>
<text x="21.8" y="449.6" text-anchor="middle" fill="#231f20" style="font-family:'Liberation Serif',serif;font-size:7px;font-weight:normal;"  stroke="#231f20" stroke-width="0.14">1</text>
<text x="195.0" y="447.4" text-anchor="middle" fill="#231f20" style="font-family:'Liberation Serif',serif;font-size:11.5px;font-weight:normal;font-style:italic"  stroke="#231f20" stroke-width="0.14">A</text>
<text x="200.0" y="449.6" text-anchor="middle" fill="#231f20" style="font-family:'Liberation Serif',serif;font-size:7px;font-weight:normal;"  stroke="#231f20" stroke-width="0.14">2</text>
<text x="35.2" y="440.8" text-anchor="start" fill="#231f20" style="font-family:'Liberation Serif',serif;font-size:9.45px;font-weight:normal;"  textLength="91.9" lengthAdjust="spacingAndGlyphs" stroke="#231f20" stroke-width="0.14">Angle formed by actual,</text>
<text x="35.2" y="452.2" text-anchor="start" fill="#231f20" style="font-family:'Liberation Serif',serif;font-size:9.45px;font-weight:normal;"  textLength="98.1" lengthAdjust="spacingAndGlyphs" stroke="#231f20" stroke-width="0.14">ref 1, and estimated cones</text>
<text x="212.1" y="440.8" text-anchor="start" fill="#231f20" style="font-family:'Liberation Serif',serif;font-size:9.45px;font-weight:normal;"  textLength="91.9" lengthAdjust="spacingAndGlyphs" stroke="#231f20" stroke-width="0.14">Angle formed by actual,</text>
<text x="212.1" y="452.2" text-anchor="start" fill="#231f20" style="font-family:'Liberation Serif',serif;font-size:9.45px;font-weight:normal;"  textLength="98.1" lengthAdjust="spacingAndGlyphs" stroke="#231f20" stroke-width="0.14">ref 2, and estimated cones</text>
<line x1="365.1" y1="446.5" x2="381.1" y2="446.5" stroke="#1e74a6" stroke-width="2"/>
<line x1="522.4" y1="446.3" x2="538" y2="446.3" stroke="#1e74a6" stroke-width="1.8" stroke-dasharray="2.6,1.4"/>
<text x="391" y="443.8" text-anchor="start" fill="#231f20" style="font-family:'Liberation Serif',serif;font-size:9.45px;font-weight:normal;"  textLength="53.8" lengthAdjust="spacingAndGlyphs" stroke="#231f20" stroke-width="0.14">Euler distance</text>
<text x="448.8" y="443.8" text-anchor="start" fill="#231f20" style="font-family:'Liberation Serif',serif;font-size:12px;font-weight:normal;font-style:italic"  stroke="#231f20" stroke-width="0.14">&#949;</text>
<text x="457.3" y="443.8" text-anchor="start" fill="#231f20" style="font-family:'Liberation Serif',serif;font-size:9.45px;font-weight:normal;"  textLength="31.1" lengthAdjust="spacingAndGlyphs" stroke="#231f20" stroke-width="0.14">between</text>
<text x="391" y="455.2" text-anchor="start" fill="#231f20" style="font-family:'Liberation Serif',serif;font-size:9.45px;font-weight:normal;"  textLength="38.6" lengthAdjust="spacingAndGlyphs" stroke="#231f20" stroke-width="0.14">true cones</text>
<text x="548.4" y="443.3" text-anchor="start" fill="#231f20" style="font-family:'Liberation Serif',serif;font-size:9.45px;font-weight:normal;"  textLength="53.8" lengthAdjust="spacingAndGlyphs" stroke="#231f20" stroke-width="0.14">Euler distance</text>
<text x="602.2" y="443.3" text-anchor="start" fill="#231f20" style="font-family:'Liberation Serif',serif;font-size:12px;font-weight:normal;font-style:italic"  stroke="#231f20" stroke-width="0.14">&#949;</text>
<text x="609.6" y="441.8" text-anchor="start" fill="#231f20" style="font-family:'Liberation Serif',serif;font-size:9px;font-weight:bold;"  stroke="#231f20" stroke-width="0.14">'</text>
<text x="613.5" y="443.3" text-anchor="start" fill="#231f20" style="font-family:'Liberation Serif',serif;font-size:9.45px;font-weight:normal;"  textLength="71.5" lengthAdjust="spacingAndGlyphs" stroke="#231f20" stroke-width="0.14">between estimated</text>
<text x="548.4" y="455.2" text-anchor="start" fill="#231f20" style="font-family:'Liberation Serif',serif;font-size:9.45px;font-weight:normal;"  textLength="76.4" lengthAdjust="spacingAndGlyphs" stroke="#231f20" stroke-width="0.14">and other true cones</text>
<text x="8.2" y="469.8" text-anchor="start" fill="#231f20" style="font-family:'Liberation Serif',serif;font-size:9.45px;font-weight:bold;"  textLength="20.4" lengthAdjust="spacingAndGlyphs" stroke="#231f20" stroke-width="0.14">AAD</text>
<text x="36.4" y="469.8" text-anchor="start" fill="#231f20" style="font-family:'Liberation Serif',serif;font-size:9.45px;font-weight:normal;"  textLength="98.5" lengthAdjust="spacingAndGlyphs" stroke="#231f20" stroke-width="0.14">Average Angle Deviation</text>
<text x="196.8" y="469.8" text-anchor="start" fill="#231f20" style="font-family:'Liberation Serif',serif;font-size:9.45px;font-weight:bold;"  textLength="27.4" lengthAdjust="spacingAndGlyphs" stroke="#231f20" stroke-width="0.14">ARDD</text>
<text x="229" y="469.8" text-anchor="start" fill="#231f20" style="font-family:'Liberation Serif',serif;font-size:9.45px;font-weight:normal;"  textLength="143.8" lengthAdjust="spacingAndGlyphs" stroke="#231f20" stroke-width="0.14">Average Relative Distance Deviation</text>
<text x="430.8" y="469.8" text-anchor="start" fill="#231f20" style="font-family:'Liberation Serif',serif;font-size:9.45px;font-weight:bold;"  textLength="21" lengthAdjust="spacingAndGlyphs" stroke="#231f20" stroke-width="0.14">ODD</text>
<text x="458.4" y="469.8" text-anchor="start" fill="#231f20" style="font-family:'Liberation Serif',serif;font-size:9.45px;font-weight:normal;"  textLength="106.4" lengthAdjust="spacingAndGlyphs" stroke="#231f20" stroke-width="0.14">Overall Distance Deviation</text></svg></body></html>
